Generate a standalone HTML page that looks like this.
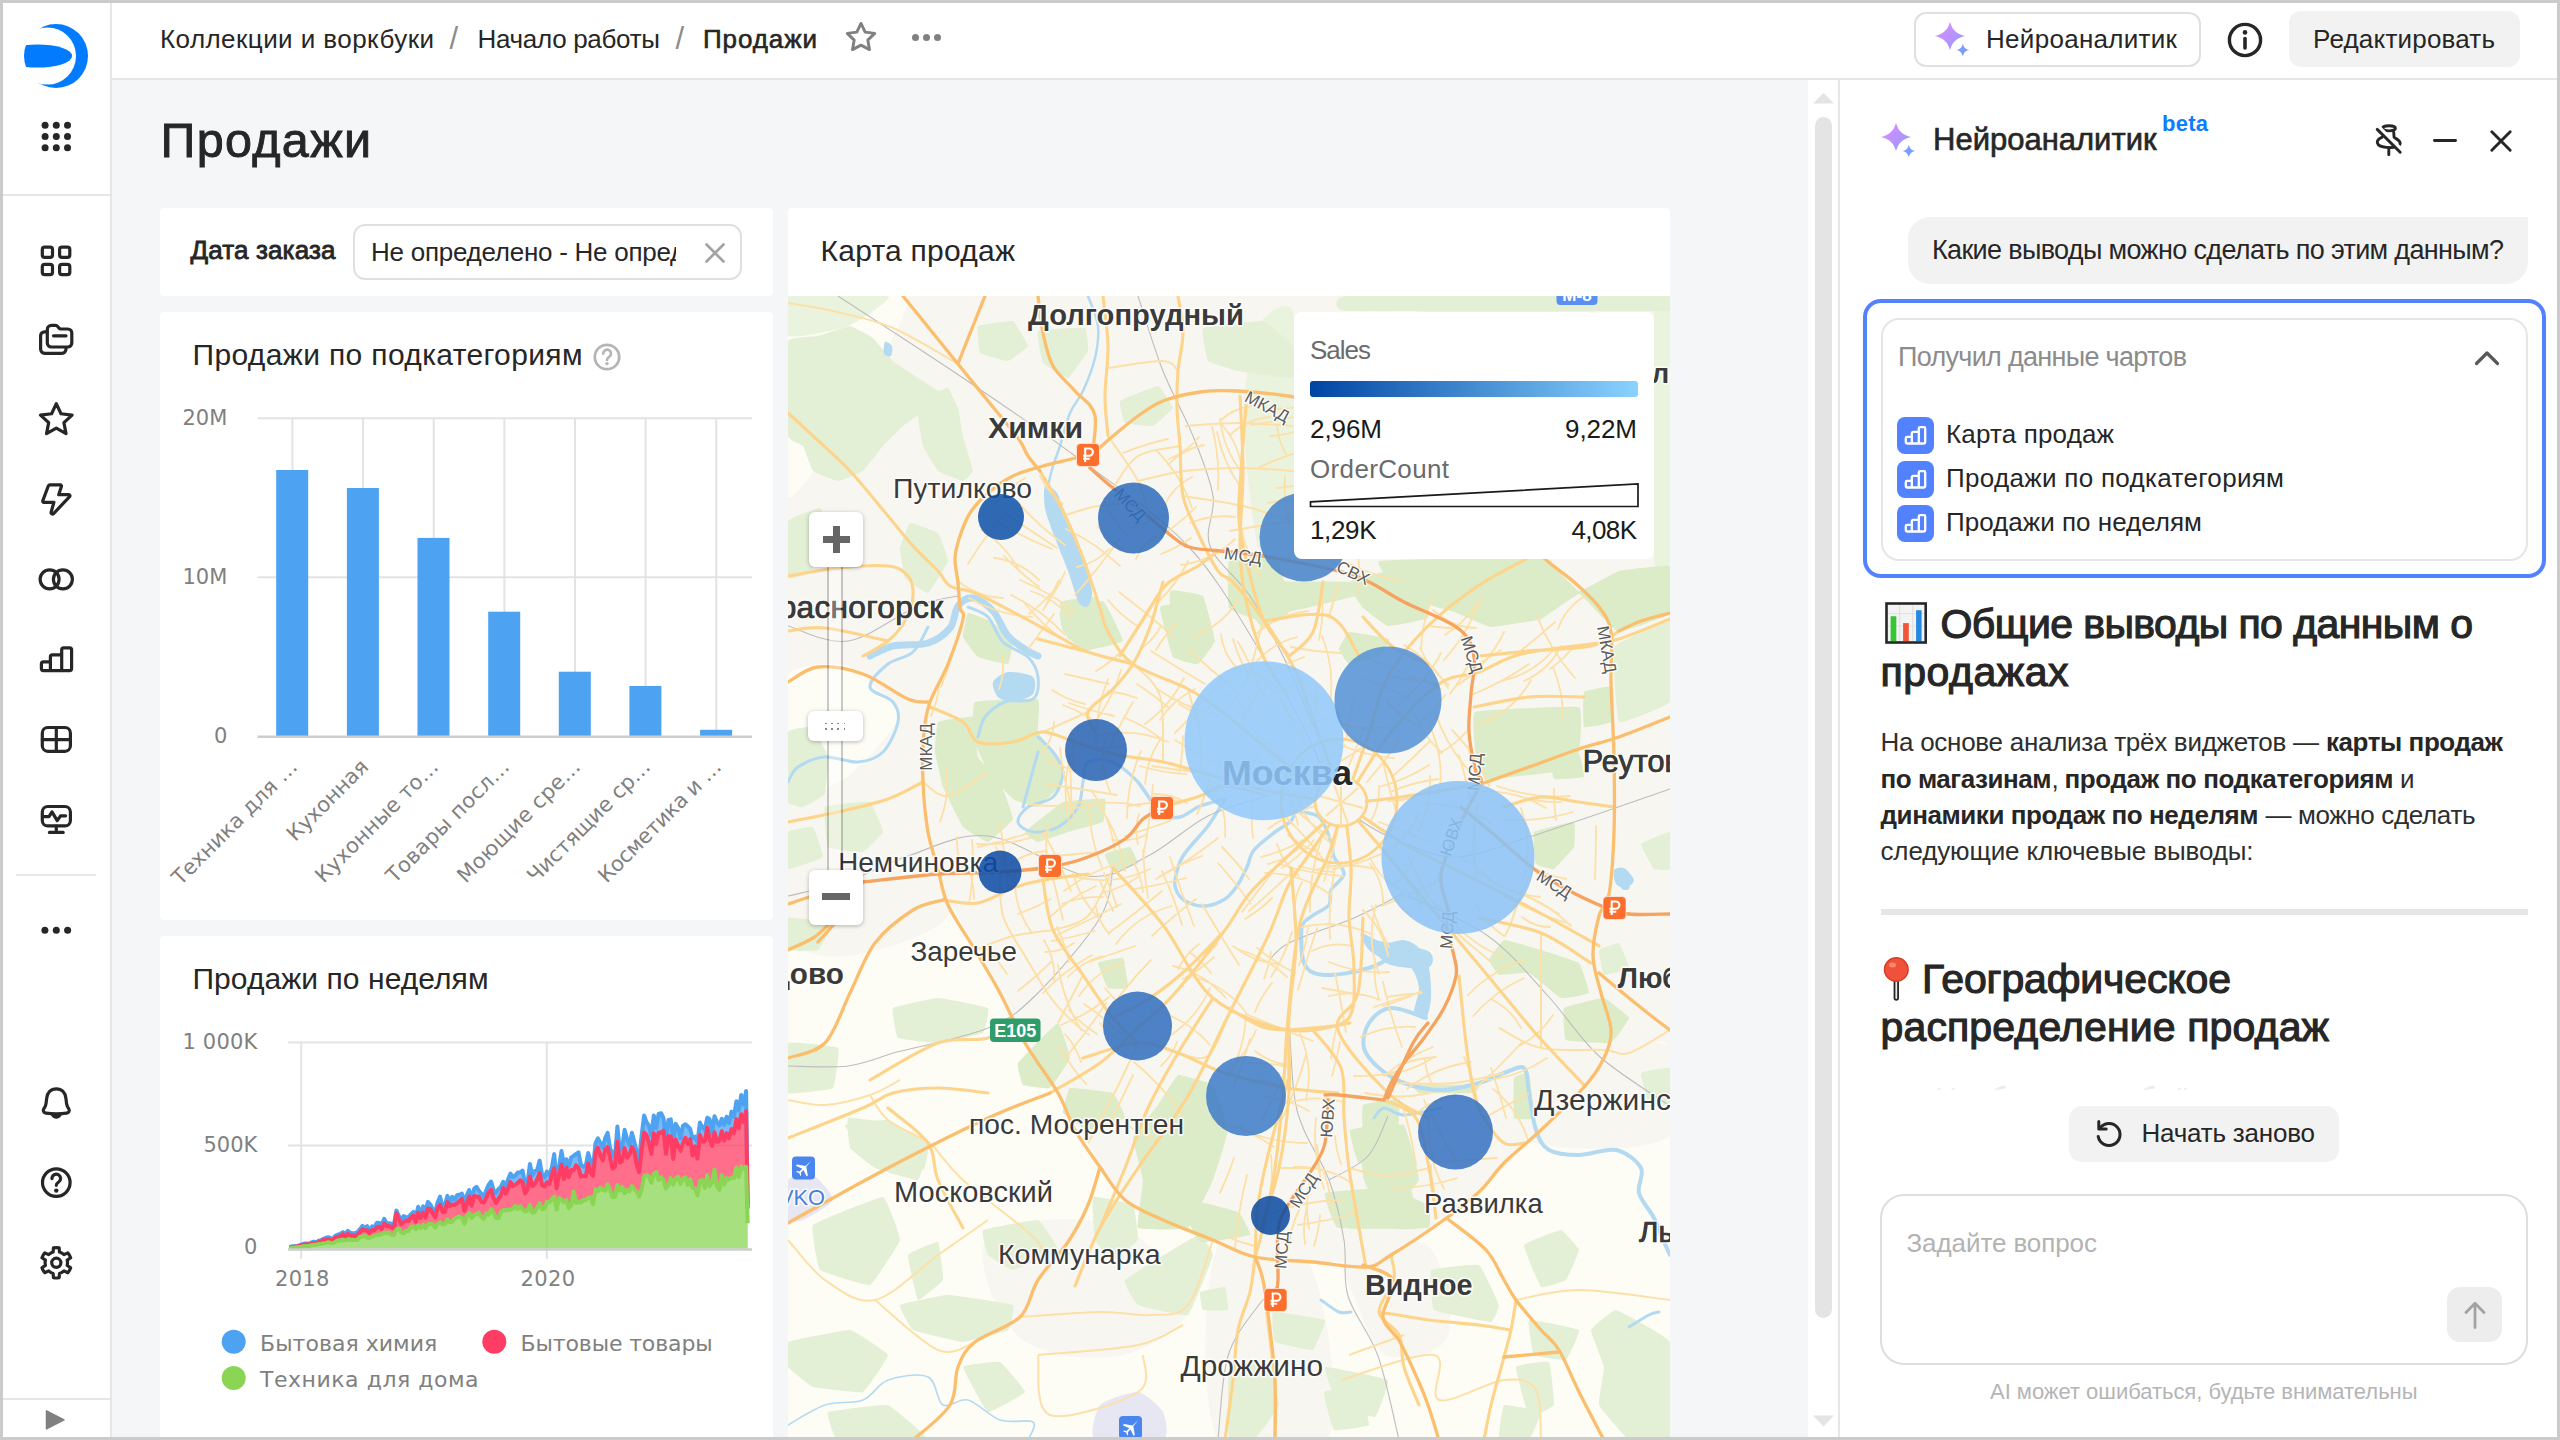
<!DOCTYPE html>
<html lang="ru"><head><meta charset="utf-8"><title>Продажи</title>
<style>
*{box-sizing:border-box;margin:0;padding:0}
html,body{width:2560px;height:1440px;overflow:hidden;background:#fff}
body{font-family:"Liberation Sans",sans-serif;color:#262626;position:relative}
.abs{position:absolute}
.t{position:absolute;white-space:pre;line-height:1}
.b{font-weight:bold}
svg{position:absolute;overflow:visible}
.ic{fill:none;stroke:#262626;stroke-width:3.2;stroke-linecap:round;stroke-linejoin:round}
.dj{font-family:"DejaVu Sans","Liberation Sans",sans-serif}
</style></head>
<body>
<div class="abs" style="left:112px;top:80px;width:1696px;height:1357px;background:#f5f6f8;"></div>
<div class="abs" style="left:110px;top:3px;width:2px;height:1434px;background:#e6e6e6;"></div>
<div class="abs" style="left:3px;top:194px;width:107px;height:2px;background:#e6e6e6;"></div>
<div class="abs" style="left:16px;top:873.5px;width:80px;height:2px;background:#e9e9e9;"></div>
<div class="abs" style="left:3px;top:1398px;width:109px;height:2px;background:#e6e6e6;"></div>
<div class="abs" style="left:112px;top:78px;width:2445px;height:2px;background:#e6e6e6;"></div>
<!-- p_side -->
<svg width="112" height="1440" viewBox="0 0 112 1440" style="left:0;top:0">
<defs><clipPath id="lgc"><circle cx="56" cy="56" r="32"/></clipPath><mask id="lgm"><rect x="0" y="0" width="112" height="112" fill="#fff"/><circle cx="47.4" cy="56" r="28.6" fill="#000"/></mask></defs>
<circle cx="56" cy="56" r="32" fill="#027bff" mask="url(#lgm)"/>
<ellipse cx="37.5" cy="56" rx="34.6" ry="11.6" fill="#027bff" clip-path="url(#lgc)"/>
<circle cx="45.1" cy="125.3" r="3.5" fill="#262626"/>
<circle cx="56.3" cy="125.3" r="3.5" fill="#262626"/>
<circle cx="67.5" cy="125.3" r="3.5" fill="#262626"/>
<circle cx="45.1" cy="136.5" r="3.5" fill="#262626"/>
<circle cx="56.3" cy="136.5" r="3.5" fill="#262626"/>
<circle cx="67.5" cy="136.5" r="3.5" fill="#262626"/>
<circle cx="45.1" cy="147.7" r="3.5" fill="#262626"/>
<circle cx="56.3" cy="147.7" r="3.5" fill="#262626"/>
<circle cx="67.5" cy="147.7" r="3.5" fill="#262626"/>
<g class="ic">
<rect x="42.3" y="247.1" width="10.2" height="10.2" rx="2.4"/>
<rect x="59.6" y="247.1" width="10.2" height="10.2" rx="2.4"/>
<rect x="42.3" y="264.4" width="10.2" height="10.2" rx="2.4"/>
<rect x="59.6" y="264.4" width="10.2" height="10.2" rx="2.4"/>
<path d="M47.3 331.8 H44.6 a4 4 0 0 0 -4 4 V349.3 a4 4 0 0 0 4 4 H62 a4 4 0 0 0 4 -4 V348.4"/>
<path d="M47.3 343 V329.4 a4 4 0 0 1 4 -4 H55.4 a3 3 0 0 1 2.4 1.2 l0.9 1.2 a3 3 0 0 0 2.4 1.2 H67.8 a4 4 0 0 1 4 4 V343 a4 4 0 0 1 -4 4 H51.3 a4 4 0 0 1 -4 -4 Z"/>
<path d="M53.5 335.8 H66"/>
<path d="M56.30 403.60L61.00 413.73L72.09 415.07L63.91 422.67L66.06 433.63L56.30 428.20L46.54 433.63L48.69 422.67L40.51 415.07L51.60 413.73Z"/>
<path d="M50 484.9 H60.3 a1.2 1.2 0 0 1 1.1 1.6 L58.7 494.7 H68.8 a1.1 1.1 0 0 1 .8 1.9 L53.6 513.6 a1.5 1.5 0 0 1 -2.5 -1.4 L53.9 502.4 H43.9 a1.2 1.2 0 0 1 -1.1 -1.6 L48.3 486 a1.8 1.8 0 0 1 1.7 -1.1 Z"/>
<circle cx="49.600" cy="579.300" r="9.500"/><circle cx="62.900" cy="579.300" r="9.500"/>
<path d="M50.4 670.6 H43.4 a2 2 0 0 1 -2 -2 V663.9 a2 2 0 0 1 2 -2 H50.4 M50.4 670.6 V656.8 a2 2 0 0 1 2 -2 H61.7 M50.4 670.6 H61.7 M61.7 670.6 V649.8 a2 2 0 0 1 2 -2 H69.6 a2 2 0 0 1 2 2 V668.6 a2 2 0 0 1 -2 2 H61.7"/>
<rect x="42.3" y="727.5" width="28.1" height="23.8" rx="5.5"/><path d="M56.3 727.5 V751.3 M42.3 739.7 H70.4"/>
<rect x="42.3" y="806.5" width="28.1" height="19.4" rx="5.5"/><path d="M56.3 826 V832.4 M49.4 832.4 H63.2 M42.5 816.7 H49 L52 811.9 L57.2 820.6 L60.7 815.8 H65.6"/>
<path d="M56.3 1088.8 c-5.6 0 -9 4 -9.6 9.4 l-.7 5.6 c-.3 2.2 -1.2 3.6 -2.2 5 c-1.3 1.9 0 4.1 2.2 4.4 c3.4 .5 6.9 .7 10.3 .7 s6.900 -.2 10.3 -.7 c2.2 -.3 3.5 -2.5 2.2 -4.4 c-1 -1.4 -1.9 -2.8 -2.2 -5 l-.7 -5.600 c-.6 -5.400 -4 -9.400 -9.600 -9.400 Z"/>
<path d="M52.4 1114.6 c.8 1.6 2.200 2.6 3.900 2.600 s3.100 -1 3.900 -2.600" fill="#262626"/>
<circle cx="56.3" cy="1182.6" r="13.8"/>
<path d="M52 1178.6 a4.3 4.3 0 1 1 6.7 3.4 c-1.500 1 -2.400 1.700 -2.400 3.300"/>
<path d="M53.45 1247.87A15.2 15.2 0 0 1 59.15 1247.87L59.48 1252.06A11.2 11.2 0 0 1 64.01 1254.68L67.81 1252.87A15.2 15.2 0 0 1 70.65 1257.80L67.19 1260.19A11.2 11.2 0 0 1 67.19 1265.41L70.65 1267.80A15.2 15.2 0 0 1 67.81 1272.73L64.01 1270.92A11.2 11.2 0 0 1 59.48 1273.54L59.15 1277.73A15.2 15.2 0 0 1 53.45 1277.73L53.12 1273.54A11.2 11.2 0 0 1 48.59 1270.92L44.79 1272.73A15.2 15.2 0 0 1 41.95 1267.80L45.41 1265.41A11.2 11.2 0 0 1 45.41 1260.19L41.95 1257.80A15.2 15.2 0 0 1 44.79 1252.87L48.59 1254.68A11.2 11.2 0 0 1 53.12 1252.06Z"/><circle cx="56.3" cy="1262.800" r="4.6"/>
</g>
<circle cx="56.3" cy="1190.6" r="2.2" fill="#262626"/>
<circle cx="44.9" cy="930.2" r="3.5" fill="#262626"/>
<circle cx="56.3" cy="930.2" r="3.5" fill="#262626"/>
<circle cx="67.6" cy="930.2" r="3.5" fill="#262626"/>
<path d="M46.500 1410.800 L64 1419.800 L46.500 1428.800 Z" fill="#808080" stroke="#808080" stroke-width="1.5" stroke-linejoin="round"/>
</svg>
<!-- p_head -->
<div class="t" style="top:26.0px;font-size:26px;left:160px;letter-spacing:0.435px;">Коллекции и воркбуки</div>
<div class="t" style="top:22.5px;font-size:31px;left:449.5px;color:#8c8c8c;">/</div>
<div class="t" style="top:26.0px;font-size:26px;left:477.5px;letter-spacing:-0.301px;">Начало работы</div>
<div class="t" style="top:22.5px;font-size:31px;left:675.5px;color:#8c8c8c;">/</div>
<div class="t" style="top:26.0px;font-size:26px;left:703px;letter-spacing:0.902px;-webkit-text-stroke:0.6px #262626;">Продажи</div>
<svg width="40" height="40" viewBox="-20 -20 40 40" style="left:840.5px;top:16.5px"><path d="M0 -13.6 L4.2 -4.9 L13.700 -3.6 L6.800 3.100 L8.500 12.600 L0 8.100 L-8.500 12.600 L-6.800 3.100 L-13.700 -3.600 L-4.200 -4.900 Z" fill="none" stroke="#808080" stroke-width="2.9" stroke-linejoin="round"/></svg>
<div class="abs" style="left:911.8px;top:33.7px;width:7px;height:7px;background:#808080;border-radius:3.5px;"></div>
<div class="abs" style="left:923.1px;top:33.7px;width:7px;height:7px;background:#808080;border-radius:3.5px;"></div>
<div class="abs" style="left:934.4px;top:33.7px;width:7px;height:7px;background:#808080;border-radius:3.5px;"></div>
<div class="abs" style="left:1914px;top:12px;width:287px;height:55px;border-radius:12px;border:2px solid #e0e0e0;"></div>
<svg width="2" height="2" style="left:1950.4px;top:36.3px"><defs><linearGradient id="sg1" gradientUnits="userSpaceOnUse" x1="-14" y1="-12" x2="16" y2="18"><stop offset="0" stop-color="#e08bff"/><stop offset="0.5" stop-color="#b494ff"/><stop offset="1" stop-color="#8a9aff"/></linearGradient></defs><g transform="scale(1.0)" fill="url(#sg1)"><path d="M0 -14.300 C2 -6.400 6.400 -2 15.300 0 C6.400 2 2 6.400 0 14.300 C-2 6.400 -6.400 2 -15.300 0 C-6.400 -2 -2 -6.400 0 -14.300 Z"/><path d="M0 -6.300 C.9 -2.600 2.600 -.9 6.300 0 C2.600 .9 .9 2.600 0 6.300 C-.9 2.600 -2.600 .9 -6.300 0 C-2.600 -.9 -.9 -2.600 0 -6.300 Z" transform="translate(12.800 14)" fill="#7b9dff"/></g></svg>
<div class="t" style="top:25.7px;font-size:26px;left:1986px;letter-spacing:0.295px;">Нейроаналитик</div>
<svg width="40" height="40" viewBox="-20 -20 40 40" style="left:2225.3px;top:19.5px"><circle r="15.6" fill="none" stroke="#262626" stroke-width="3.4"/><path d="M0 -1.5 V8" stroke="#262626" stroke-width="3.6" stroke-linecap="round"/><circle cy="-7.6" r="2.3" fill="#262626"/></svg>
<div class="abs" style="left:2289px;top:11px;width:231px;height:56px;background:#f2f2f2;border-radius:12px;"></div>
<div class="t" style="top:25.7px;font-size:26px;left:2313px;letter-spacing:0.200px;">Редактировать</div>
<div class="t" style="top:115.8px;font-size:48.5px;left:160.5px;letter-spacing:1.324px;-webkit-text-stroke:0.9px #262626;">Продажи</div>
<!-- p_left -->
<div class="abs" style="left:160px;top:208px;width:612.5px;height:88px;background:#fff;border-radius:4px;"></div>
<div class="t" style="top:236.7px;font-size:26px;left:190.5px;letter-spacing:0.133px;-webkit-text-stroke:0.85px #262626;">Дата заказа</div>
<div class="abs" style="left:352.5px;top:224px;width:389px;height:56px;background:#fff;border-radius:12px;border:2px solid #e0e0e0;"></div>
<div class="abs" style="left:371px;top:230px;width:304.5px;height:44px;overflow:hidden"><div class="t" style="top:8.5px;font-size:26px;left:0px;letter-spacing:-0.258px;">Не определено - Не определено</div></div>
<svg width="24" height="24" viewBox="-12 -12 24 24" style="left:703px;top:241px"><path d="M-8.500 -8.500 L8.500 8.500 M8.500 -8.500 L-8.500 8.500" stroke="#a3a3a3" stroke-width="2.7" stroke-linecap="round"/></svg>
<div class="abs" style="left:160px;top:312px;width:612.5px;height:608px;background:#fff;border-radius:4px;"></div>
<div class="t" style="top:339.5px;font-size:30px;left:192.5px;letter-spacing:0.355px;">Продажи по подкатегориям</div>
<svg width="32" height="32" viewBox="-16 -16 32 32" style="left:590.500px;top:340.500px"><circle r="12.2" fill="none" stroke="#b5b5b5" stroke-width="2.8"/><path d="M-3.800 -3.300 a3.900 3.900 0 1 1 6 3.200 c-1.300 .9 -2.200 1.500 -2.200 3" fill="none" stroke="#b5b5b5" stroke-width="2.600" stroke-linecap="round"/><circle cy="6.600" r="1.700" fill="#b5b5b5"/></svg>
<svg width="2560" height="1440" viewBox="0 0 2560 1440" style="left:0;top:0;pointer-events:none">
<path d="M257.5 418.2 H752 M257.5 577.2 H752" stroke="#e3e3e3" stroke-width="2" fill="none"/>
<path d="M292.4 418.2 V737.2 M363.1 418.2 V737.2 M433.7 418.2 V737.2 M504.4 418.2 V737.2 M575.0 418.2 V737.2 M645.6 418.2 V737.2 M716.3 418.2 V737.2" stroke="#e3e3e3" stroke-width="2" fill="none"/>
<rect x="276.2" y="470" width="32" height="266.2" fill="#4da2f1"/>
<rect x="346.9" y="488" width="32" height="248.2" fill="#4da2f1"/>
<rect x="417.5" y="537.9" width="32" height="198.3" fill="#4da2f1"/>
<rect x="488.2" y="611.7" width="32" height="124.5" fill="#4da2f1"/>
<rect x="558.8" y="671.7" width="32" height="64.5" fill="#4da2f1"/>
<rect x="629.4" y="686" width="32" height="50.2" fill="#4da2f1"/>
<rect x="700.1" y="729.8" width="32" height="6.4" fill="#4da2f1"/>
<path d="M257.5 736.8000000000001 H752" stroke="#cdcdcd" stroke-width="2.4" fill="none"/>
</svg>
<div class="t" style="top:408.0px;font-size:21px;left:182.5px;font-family:'DejaVu Sans',sans-serif;color:#808080;letter-spacing:-0.021px;">20M</div>
<div class="t" style="top:567.0px;font-size:21px;left:182.5px;font-family:'DejaVu Sans',sans-serif;color:#808080;letter-spacing:-0.021px;">10M</div>
<div class="t" style="top:725.5px;font-size:21px;left:213.9px;font-family:'DejaVu Sans',sans-serif;color:#808080;">0</div>
<div class="t" style="left:126.9px;top:752.5px;font-size:21px;font-family:'DejaVu Sans',sans-serif;color:#808080;transform-origin:167.0px 50%;transform:rotate(-45deg);letter-spacing:0.081px;">Техника для …</div>
<div class="t" style="left:259.6px;top:752.5px;font-size:21px;font-family:'DejaVu Sans',sans-serif;color:#808080;transform-origin:105.0px 50%;transform:rotate(-45deg);letter-spacing:-0.082px;">Кухонная</div>
<div class="t" style="left:271.2px;top:752.5px;font-size:21px;font-family:'DejaVu Sans',sans-serif;color:#808080;transform-origin:164.0px 50%;transform:rotate(-45deg);letter-spacing:0.152px;">Кухонные то…</div>
<div class="t" style="left:341.9px;top:752.5px;font-size:21px;font-family:'DejaVu Sans',sans-serif;color:#808080;transform-origin:164.0px 50%;transform:rotate(-45deg);letter-spacing:0.359px;">Товары посл…</div>
<div class="t" style="left:412.5px;top:752.5px;font-size:21px;font-family:'DejaVu Sans',sans-serif;color:#808080;transform-origin:164.0px 50%;transform:rotate(-45deg);letter-spacing:0.353px;">Моющие сре…</div>
<div class="t" style="left:483.1px;top:752.5px;font-size:21px;font-family:'DejaVu Sans',sans-serif;color:#808080;transform-origin:164.0px 50%;transform:rotate(-45deg);letter-spacing:0.058px;">Чистящие ср…</div>
<div class="t" style="left:553.8px;top:752.5px;font-size:21px;font-family:'DejaVu Sans',sans-serif;color:#808080;transform-origin:164.0px 50%;transform:rotate(-45deg);letter-spacing:-0.291px;">Косметика и …</div>
<div class="abs" style="left:160px;top:936px;width:612.5px;height:520px;background:#fff;border-radius:4px;"></div>
<div class="t" style="top:964.0px;font-size:30px;left:192.5px;letter-spacing:0.056px;">Продажи по неделям</div>
<svg width="2560" height="1440" viewBox="0 0 2560 1440" style="left:0;top:0;pointer-events:none">
<path d="M288 1042.5 H752 M288 1145.6 H752" stroke="#e3e3e3" stroke-width="2" fill="none"/>
<path d="M301.2 1042.5 V1258.7 M546.8 1042.5 V1258.7" stroke="#e3e3e3" stroke-width="2" fill="none"/>
<path d="M289.5 1246.9 L291.9 1246.5 L294.4 1246.3 L296.8 1246.1 L299.2 1245.3 L301.6 1244.4 L304.1 1243.6 L306.5 1243.5 L308.9 1243.7 L311.4 1242.4 L313.8 1241.7 L316.2 1242.5 L318.6 1240.7 L321.1 1240.3 L323.5 1238.8 L325.9 1237.7 L328.4 1237.2 L330.8 1238.1 L333.2 1238.7 L335.6 1235.5 L338.1 1234.5 L340.5 1233.9 L342.9 1232.1 L345.4 1234.3 L347.8 1230.8 L350.2 1232.7 L352.6 1233.4 L355.1 1233.0 L357.5 1232.3 L359.9 1229.3 L362.4 1225.8 L364.8 1227.7 L367.2 1226.2 L369.6 1230.6 L372.1 1226.4 L374.5 1227.1 L376.9 1222.8 L379.4 1223.0 L381.8 1224.2 L384.2 1218.8 L386.6 1223.2 L389.1 1223.3 L391.5 1223.7 L393.9 1224.9 L396.4 1210.4 L398.8 1216.0 L401.2 1220.4 L403.6 1216.0 L406.1 1217.3 L408.5 1217.2 L410.9 1214.3 L413.4 1211.8 L415.8 1216.8 L418.2 1206.8 L420.6 1214.1 L423.1 1206.3 L425.5 1211.0 L427.9 1201.9 L430.4 1204.8 L432.8 1209.4 L435.2 1212.6 L437.6 1202.2 L440.1 1196.6 L442.5 1207.1 L444.9 1205.0 L447.4 1195.9 L449.8 1201.5 L452.2 1196.8 L454.6 1199.8 L457.1 1195.3 L459.5 1194.7 L461.9 1193.6 L464.4 1201.9 L466.8 1195.1 L469.2 1190.1 L471.6 1201.0 L474.1 1188.8 L476.5 1186.9 L478.9 1190.8 L481.4 1193.7 L483.8 1196.9 L486.2 1190.4 L488.6 1184.9 L491.1 1181.5 L493.5 1189.9 L495.9 1192.9 L498.4 1189.1 L500.8 1186.9 L503.2 1181.8 L505.6 1186.5 L508.1 1179.3 L510.5 1173.6 L512.9 1177.0 L515.4 1175.5 L517.8 1172.4 L520.2 1172.6 L522.6 1170.5 L525.1 1184.3 L527.5 1182.9 L529.9 1163.9 L532.4 1175.3 L534.8 1171.0 L537.2 1170.1 L539.6 1160.6 L542.1 1174.8 L544.5 1177.4 L546.9 1171.6 L549.4 1174.9 L551.8 1167.7 L554.2 1154.1 L556.6 1180.8 L559.1 1166.5 L561.5 1151.1 L563.9 1164.6 L566.4 1159.4 L568.8 1166.3 L571.2 1157.4 L573.6 1155.9 L576.1 1153.9 L578.5 1152.4 L580.9 1164.6 L583.4 1166.7 L585.8 1165.7 L588.2 1153.0 L590.6 1161.6 L593.1 1167.4 L595.5 1143.2 L597.9 1138.4 L600.4 1142.9 L602.8 1147.5 L605.2 1138.1 L607.6 1132.9 L610.1 1148.5 L612.5 1153.0 L614.9 1157.4 L617.4 1126.5 L619.8 1150.9 L622.2 1147.8 L624.6 1129.7 L627.1 1139.1 L629.5 1145.3 L631.9 1132.7 L634.4 1142.3 L636.8 1152.0 L639.2 1159.8 L641.6 1135.5 L644.1 1115.5 L646.5 1122.2 L648.9 1125.4 L651.4 1135.4 L653.8 1115.6 L656.2 1128.2 L658.6 1113.9 L661.1 1113.2 L663.5 1118.2 L665.9 1140.0 L668.4 1119.9 L670.8 1119.4 L673.2 1140.6 L675.6 1123.8 L678.1 1127.8 L680.5 1138.3 L682.9 1125.9 L685.4 1124.2 L687.8 1126.3 L690.2 1128.9 L692.6 1138.4 L695.1 1136.7 L697.5 1142.1 L699.9 1122.6 L702.4 1127.4 L704.8 1129.7 L707.2 1117.8 L709.6 1119.3 L712.1 1134.0 L714.5 1116.3 L716.9 1121.8 L719.4 1125.4 L721.8 1118.7 L724.2 1125.0 L726.6 1116.7 L729.1 1122.9 L731.5 1111.6 L733.9 1116.7 L736.4 1101.3 L738.8 1110.5 L741.2 1095.1 L743.6 1104.4 L746.1 1091.0 L747.7 1204.5 L747.7 1208.6 L746.1 1111.1 L743.6 1122.0 L741.2 1114.3 L738.8 1128.2 L736.4 1119.3 L733.9 1133.2 L731.5 1129.1 L729.1 1138.3 L726.6 1133.2 L724.2 1140.7 L721.8 1131.2 L719.4 1140.8 L716.9 1141.9 L714.5 1132.3 L712.1 1146.0 L709.6 1139.2 L707.2 1127.7 L704.8 1141.4 L702.4 1141.7 L699.9 1135.0 L697.5 1158.5 L695.1 1146.3 L692.6 1155.5 L690.2 1139.2 L687.8 1143.8 L685.4 1137.8 L682.9 1143.4 L680.5 1150.8 L678.1 1145.4 L675.6 1139.4 L673.2 1159.1 L670.8 1136.7 L668.4 1136.0 L665.9 1153.9 L663.5 1130.7 L661.1 1132.8 L658.6 1132.5 L656.2 1143.7 L653.8 1133.2 L651.4 1153.9 L648.9 1142.6 L646.5 1135.2 L644.1 1132.5 L641.6 1150.4 L639.2 1172.3 L636.8 1165.3 L634.4 1151.6 L631.9 1146.9 L629.5 1154.5 L627.1 1157.6 L624.6 1148.1 L622.2 1161.0 L619.8 1162.6 L617.4 1141.7 L614.9 1166.9 L612.5 1168.6 L610.1 1157.5 L607.6 1147.2 L605.2 1149.7 L602.8 1160.4 L600.4 1155.7 L597.9 1147.5 L595.5 1153.0 L593.1 1175.6 L590.6 1172.6 L588.2 1163.5 L585.8 1176.3 L583.4 1175.9 L580.9 1176.7 L578.5 1167.8 L576.1 1165.3 L573.6 1170.4 L571.2 1170.0 L568.8 1177.1 L566.4 1167.5 L563.9 1179.1 L561.5 1164.6 L559.1 1174.6 L556.6 1188.2 L554.2 1168.4 L551.8 1175.1 L549.4 1184.2 L546.9 1182.4 L544.5 1186.5 L542.1 1185.2 L539.6 1173.1 L537.2 1179.4 L534.8 1184.2 L532.4 1186.3 L529.9 1176.4 L527.5 1189.7 L525.1 1193.5 L522.6 1182.2 L520.2 1180.3 L517.8 1182.9 L515.4 1184.8 L512.9 1186.1 L510.5 1182.1 L508.1 1188.5 L505.6 1193.8 L503.2 1188.0 L500.8 1195.5 L498.4 1198.8 L495.9 1202.9 L493.5 1197.8 L491.1 1189.8 L488.6 1192.5 L486.2 1198.1 L483.8 1202.6 L481.4 1201.8 L478.9 1197.0 L476.5 1196.3 L474.1 1196.3 L471.6 1205.8 L469.2 1196.5 L466.8 1203.8 L464.4 1210.8 L461.9 1198.8 L459.5 1201.0 L457.1 1203.3 L454.6 1204.9 L452.2 1204.6 L449.8 1206.0 L447.4 1202.1 L444.9 1211.7 L442.5 1212.0 L440.1 1204.5 L437.6 1207.9 L435.2 1217.4 L432.8 1213.2 L430.4 1209.3 L427.9 1208.6 L425.5 1217.5 L423.1 1212.6 L420.6 1218.1 L418.2 1212.6 L415.8 1221.9 L413.4 1215.5 L410.9 1217.5 L408.5 1221.1 L406.1 1220.6 L403.6 1222.1 L401.2 1224.4 L398.8 1219.2 L396.4 1213.2 L393.9 1228.0 L391.5 1227.3 L389.1 1226.1 L386.6 1226.0 L384.2 1223.3 L381.8 1228.9 L379.4 1226.8 L376.9 1227.3 L374.5 1230.3 L372.1 1229.9 L369.6 1233.2 L367.2 1230.3 L364.8 1230.6 L362.4 1229.4 L359.9 1232.1 L357.5 1234.8 L355.1 1236.1 L352.6 1235.4 L350.2 1235.5 L347.8 1233.7 L345.4 1236.9 L342.9 1234.2 L340.5 1235.9 L338.1 1236.8 L335.6 1237.5 L333.2 1239.9 L330.8 1240.2 L328.4 1239.4 L325.9 1239.7 L323.5 1240.0 L321.1 1241.5 L318.6 1241.9 L316.2 1243.5 L313.8 1242.9 L311.4 1243.5 L308.9 1244.6 L306.5 1244.3 L304.1 1244.8 L301.6 1245.4 L299.2 1245.8 L296.8 1246.6 L294.4 1246.7 L291.9 1247.0 L289.5 1247.4 Z" fill="#4da2f1" fill-opacity=".75"/>
<path d="M289.5 1247.4 L291.9 1247.0 L294.4 1246.7 L296.8 1246.6 L299.2 1245.8 L301.6 1245.4 L304.1 1244.8 L306.5 1244.3 L308.9 1244.6 L311.4 1243.5 L313.8 1242.9 L316.2 1243.5 L318.6 1241.9 L321.1 1241.5 L323.5 1240.0 L325.9 1239.7 L328.4 1239.4 L330.8 1240.2 L333.2 1239.9 L335.6 1237.5 L338.1 1236.8 L340.5 1235.9 L342.9 1234.2 L345.4 1236.9 L347.8 1233.7 L350.2 1235.5 L352.6 1235.4 L355.1 1236.1 L357.5 1234.8 L359.9 1232.1 L362.4 1229.4 L364.8 1230.6 L367.2 1230.3 L369.6 1233.2 L372.1 1229.9 L374.5 1230.3 L376.9 1227.3 L379.4 1226.8 L381.8 1228.9 L384.2 1223.3 L386.6 1226.0 L389.1 1226.1 L391.5 1227.3 L393.9 1228.0 L396.4 1213.2 L398.8 1219.2 L401.2 1224.4 L403.6 1222.1 L406.1 1220.6 L408.5 1221.1 L410.9 1217.5 L413.4 1215.5 L415.8 1221.9 L418.2 1212.6 L420.6 1218.1 L423.1 1212.6 L425.5 1217.5 L427.9 1208.6 L430.4 1209.3 L432.8 1213.2 L435.2 1217.4 L437.6 1207.9 L440.1 1204.5 L442.5 1212.0 L444.9 1211.7 L447.4 1202.1 L449.8 1206.0 L452.2 1204.6 L454.6 1204.9 L457.1 1203.3 L459.5 1201.0 L461.9 1198.8 L464.4 1210.8 L466.8 1203.8 L469.2 1196.5 L471.6 1205.8 L474.1 1196.3 L476.5 1196.3 L478.9 1197.0 L481.4 1201.8 L483.8 1202.6 L486.2 1198.1 L488.6 1192.5 L491.1 1189.8 L493.5 1197.8 L495.9 1202.9 L498.4 1198.8 L500.8 1195.5 L503.2 1188.0 L505.6 1193.8 L508.1 1188.5 L510.5 1182.1 L512.9 1186.1 L515.4 1184.8 L517.8 1182.9 L520.2 1180.3 L522.6 1182.2 L525.1 1193.5 L527.5 1189.7 L529.9 1176.4 L532.4 1186.3 L534.8 1184.2 L537.2 1179.4 L539.6 1173.1 L542.1 1185.2 L544.5 1186.5 L546.9 1182.4 L549.4 1184.2 L551.8 1175.1 L554.2 1168.4 L556.6 1188.2 L559.1 1174.6 L561.5 1164.6 L563.9 1179.1 L566.4 1167.5 L568.8 1177.1 L571.2 1170.0 L573.6 1170.4 L576.1 1165.3 L578.5 1167.8 L580.9 1176.7 L583.4 1175.9 L585.8 1176.3 L588.2 1163.5 L590.6 1172.6 L593.1 1175.6 L595.5 1153.0 L597.9 1147.5 L600.4 1155.7 L602.8 1160.4 L605.2 1149.7 L607.6 1147.2 L610.1 1157.5 L612.5 1168.6 L614.9 1166.9 L617.4 1141.7 L619.8 1162.6 L622.2 1161.0 L624.6 1148.1 L627.1 1157.6 L629.5 1154.5 L631.9 1146.9 L634.4 1151.6 L636.8 1165.3 L639.2 1172.3 L641.6 1150.4 L644.1 1132.5 L646.5 1135.2 L648.9 1142.6 L651.4 1153.9 L653.8 1133.2 L656.2 1143.7 L658.6 1132.5 L661.1 1132.8 L663.5 1130.7 L665.9 1153.9 L668.4 1136.0 L670.8 1136.7 L673.2 1159.1 L675.6 1139.4 L678.1 1145.4 L680.5 1150.8 L682.9 1143.4 L685.4 1137.8 L687.8 1143.8 L690.2 1139.2 L692.6 1155.5 L695.1 1146.3 L697.5 1158.5 L699.9 1135.0 L702.4 1141.7 L704.8 1141.4 L707.2 1127.7 L709.6 1139.2 L712.1 1146.0 L714.5 1132.3 L716.9 1141.9 L719.4 1140.8 L721.8 1131.2 L724.2 1140.7 L726.6 1133.2 L729.1 1138.3 L731.5 1129.1 L733.9 1133.2 L736.4 1119.3 L738.8 1128.2 L741.2 1114.3 L743.6 1122.0 L746.1 1111.1 L747.7 1208.6 L747.7 1223.2 L746.1 1166.8 L743.6 1169.2 L741.2 1166.5 L738.8 1177.0 L736.4 1167.5 L733.9 1178.1 L731.5 1177.5 L729.1 1179.4 L726.6 1178.1 L724.2 1184.5 L721.8 1175.3 L719.4 1190.0 L716.9 1186.1 L714.5 1169.4 L712.1 1182.7 L709.6 1186.1 L707.2 1175.2 L704.8 1188.0 L702.4 1180.2 L699.9 1180.9 L697.5 1195.4 L695.1 1188.6 L692.6 1187.8 L690.2 1179.0 L687.8 1185.1 L685.4 1177.3 L682.9 1178.7 L680.5 1183.9 L678.1 1176.8 L675.6 1178.7 L673.2 1184.5 L670.8 1178.1 L668.4 1185.1 L665.9 1188.4 L663.5 1179.7 L661.1 1177.3 L658.6 1180.0 L656.2 1172.2 L653.8 1173.9 L651.4 1182.8 L648.9 1176.2 L646.5 1174.9 L644.1 1176.4 L641.6 1189.5 L639.2 1196.6 L636.8 1191.6 L634.4 1189.4 L631.9 1186.0 L629.5 1191.2 L627.1 1189.9 L624.6 1193.2 L622.2 1186.8 L619.8 1190.6 L617.4 1185.0 L614.9 1197.1 L612.5 1197.1 L610.1 1190.0 L607.6 1184.4 L605.2 1190.7 L602.8 1189.8 L600.4 1187.7 L597.9 1191.3 L595.5 1189.2 L593.1 1204.1 L590.6 1197.3 L588.2 1197.7 L585.8 1200.2 L583.4 1199.9 L580.9 1202.7 L578.5 1201.6 L576.1 1203.0 L573.6 1191.7 L571.2 1205.1 L568.8 1208.1 L566.4 1200.2 L563.9 1202.1 L561.5 1199.8 L559.1 1198.1 L556.6 1209.5 L554.2 1196.6 L551.8 1199.3 L549.4 1202.3 L546.9 1201.8 L544.5 1208.5 L542.1 1209.3 L539.6 1203.3 L537.2 1207.8 L534.8 1211.8 L532.4 1212.8 L529.9 1204.8 L527.5 1210.6 L525.1 1211.4 L522.6 1209.4 L520.2 1206.3 L517.8 1209.1 L515.4 1205.8 L512.9 1208.7 L510.5 1209.7 L508.1 1209.7 L505.6 1210.2 L503.2 1209.9 L500.8 1212.1 L498.4 1218.3 L495.9 1217.8 L493.5 1212.7 L491.1 1209.0 L488.6 1214.6 L486.2 1213.2 L483.8 1218.8 L481.4 1217.0 L478.9 1212.7 L476.5 1214.1 L474.1 1215.1 L471.6 1218.0 L469.2 1213.2 L466.8 1215.6 L464.4 1223.6 L461.9 1217.7 L459.5 1216.5 L457.1 1217.3 L454.6 1218.9 L452.2 1221.6 L449.8 1222.2 L447.4 1219.3 L444.9 1224.1 L442.5 1224.3 L440.1 1222.1 L437.6 1224.0 L435.2 1227.6 L432.8 1224.1 L430.4 1223.7 L427.9 1224.2 L425.5 1228.3 L423.1 1224.7 L420.6 1228.1 L418.2 1225.4 L415.8 1229.2 L413.4 1226.6 L410.9 1226.6 L408.5 1231.2 L406.1 1230.7 L403.6 1233.4 L401.2 1232.3 L398.8 1228.7 L396.4 1229.4 L393.9 1234.9 L391.5 1234.8 L389.1 1232.4 L386.6 1233.2 L384.2 1232.4 L381.8 1234.1 L379.4 1234.5 L376.9 1235.4 L374.5 1235.8 L372.1 1236.8 L369.6 1238.1 L367.2 1237.6 L364.8 1235.6 L362.4 1236.8 L359.9 1236.8 L357.5 1239.9 L355.1 1240.1 L352.6 1240.1 L350.2 1239.7 L347.8 1239.6 L345.4 1240.3 L342.9 1240.0 L340.5 1240.5 L338.1 1240.3 L335.6 1241.6 L333.2 1243.1 L330.8 1243.2 L328.4 1242.2 L325.9 1242.9 L323.5 1243.3 L321.1 1244.0 L318.6 1244.0 L316.2 1244.9 L313.8 1244.7 L311.4 1245.1 L308.9 1246.1 L306.5 1246.3 L304.1 1246.1 L301.6 1246.7 L299.2 1247.0 L296.8 1247.2 L294.4 1247.5 L291.9 1247.7 L289.5 1247.9 Z" fill="#ff3d64" fill-opacity=".75"/>
<path d="M289.5 1247.9 L291.9 1247.7 L294.4 1247.5 L296.8 1247.2 L299.2 1247.0 L301.6 1246.7 L304.1 1246.1 L306.5 1246.3 L308.9 1246.1 L311.4 1245.1 L313.8 1244.7 L316.2 1244.9 L318.6 1244.0 L321.1 1244.0 L323.5 1243.3 L325.9 1242.9 L328.4 1242.2 L330.8 1243.2 L333.2 1243.1 L335.6 1241.6 L338.1 1240.3 L340.5 1240.5 L342.9 1240.0 L345.4 1240.3 L347.8 1239.6 L350.2 1239.7 L352.6 1240.1 L355.1 1240.1 L357.5 1239.9 L359.9 1236.8 L362.4 1236.8 L364.8 1235.6 L367.2 1237.6 L369.6 1238.1 L372.1 1236.8 L374.5 1235.8 L376.9 1235.4 L379.4 1234.5 L381.8 1234.1 L384.2 1232.4 L386.6 1233.2 L389.1 1232.4 L391.5 1234.8 L393.9 1234.9 L396.4 1229.4 L398.8 1228.7 L401.2 1232.3 L403.6 1233.4 L406.1 1230.7 L408.5 1231.2 L410.9 1226.6 L413.4 1226.6 L415.8 1229.2 L418.2 1225.4 L420.6 1228.1 L423.1 1224.7 L425.5 1228.3 L427.9 1224.2 L430.4 1223.7 L432.8 1224.1 L435.2 1227.6 L437.6 1224.0 L440.1 1222.1 L442.5 1224.3 L444.9 1224.1 L447.4 1219.3 L449.8 1222.2 L452.2 1221.6 L454.6 1218.9 L457.1 1217.3 L459.5 1216.5 L461.9 1217.7 L464.4 1223.6 L466.8 1215.6 L469.2 1213.2 L471.6 1218.0 L474.1 1215.1 L476.5 1214.1 L478.9 1212.7 L481.4 1217.0 L483.8 1218.8 L486.2 1213.2 L488.6 1214.6 L491.1 1209.0 L493.5 1212.7 L495.9 1217.8 L498.4 1218.3 L500.8 1212.1 L503.2 1209.9 L505.6 1210.2 L508.1 1209.7 L510.5 1209.7 L512.9 1208.7 L515.4 1205.8 L517.8 1209.1 L520.2 1206.3 L522.6 1209.4 L525.1 1211.4 L527.5 1210.6 L529.9 1204.8 L532.4 1212.8 L534.8 1211.8 L537.2 1207.8 L539.6 1203.3 L542.1 1209.3 L544.5 1208.5 L546.9 1201.8 L549.4 1202.3 L551.8 1199.3 L554.2 1196.6 L556.6 1209.5 L559.1 1198.1 L561.5 1199.8 L563.9 1202.1 L566.4 1200.2 L568.8 1208.1 L571.2 1205.1 L573.6 1191.7 L576.1 1203.0 L578.5 1201.6 L580.9 1202.7 L583.4 1199.9 L585.8 1200.2 L588.2 1197.7 L590.6 1197.3 L593.1 1204.1 L595.5 1189.2 L597.9 1191.3 L600.4 1187.7 L602.8 1189.8 L605.2 1190.7 L607.6 1184.4 L610.1 1190.0 L612.5 1197.1 L614.9 1197.1 L617.4 1185.0 L619.8 1190.6 L622.2 1186.8 L624.6 1193.2 L627.1 1189.9 L629.5 1191.2 L631.9 1186.0 L634.4 1189.4 L636.8 1191.6 L639.2 1196.6 L641.6 1189.5 L644.1 1176.4 L646.5 1174.9 L648.9 1176.2 L651.4 1182.8 L653.8 1173.9 L656.2 1172.2 L658.6 1180.0 L661.1 1177.3 L663.5 1179.7 L665.9 1188.4 L668.4 1185.1 L670.8 1178.1 L673.2 1184.5 L675.6 1178.7 L678.1 1176.8 L680.5 1183.9 L682.9 1178.7 L685.4 1177.3 L687.8 1185.1 L690.2 1179.0 L692.6 1187.8 L695.1 1188.6 L697.5 1195.4 L699.9 1180.9 L702.4 1180.2 L704.8 1188.0 L707.2 1175.2 L709.6 1186.1 L712.1 1182.7 L714.5 1169.4 L716.9 1186.1 L719.4 1190.0 L721.8 1175.3 L724.2 1184.5 L726.6 1178.1 L729.1 1179.4 L731.5 1177.5 L733.9 1178.1 L736.4 1167.5 L738.8 1177.0 L741.2 1166.5 L743.6 1169.2 L746.1 1166.8 L747.7 1223.2 L747.7 1248.7 L289.5 1248.7 Z" fill="#8ad554" fill-opacity=".75"/>
<path d="M289.5 1246.9 L291.9 1246.5 L294.4 1246.3 L296.8 1246.1 L299.2 1245.3 L301.6 1244.4 L304.1 1243.6 L306.5 1243.5 L308.9 1243.7 L311.4 1242.4 L313.8 1241.7 L316.2 1242.5 L318.6 1240.7 L321.1 1240.3 L323.5 1238.8 L325.9 1237.7 L328.4 1237.2 L330.8 1238.1 L333.2 1238.7 L335.6 1235.5 L338.1 1234.5 L340.5 1233.9 L342.9 1232.1 L345.4 1234.3 L347.8 1230.8 L350.2 1232.7 L352.6 1233.4 L355.1 1233.0 L357.5 1232.3 L359.9 1229.3 L362.4 1225.8 L364.8 1227.7 L367.2 1226.2 L369.6 1230.6 L372.1 1226.4 L374.5 1227.1 L376.9 1222.8 L379.4 1223.0 L381.8 1224.2 L384.2 1218.8 L386.6 1223.2 L389.1 1223.3 L391.5 1223.7 L393.9 1224.9 L396.4 1210.4 L398.8 1216.0 L401.2 1220.4 L403.6 1216.0 L406.1 1217.3 L408.5 1217.2 L410.9 1214.3 L413.4 1211.8 L415.8 1216.8 L418.2 1206.8 L420.6 1214.1 L423.1 1206.3 L425.5 1211.0 L427.9 1201.9 L430.4 1204.8 L432.8 1209.4 L435.2 1212.6 L437.6 1202.2 L440.1 1196.6 L442.5 1207.1 L444.9 1205.0 L447.4 1195.9 L449.8 1201.5 L452.2 1196.8 L454.6 1199.8 L457.1 1195.3 L459.5 1194.7 L461.9 1193.6 L464.4 1201.9 L466.8 1195.1 L469.2 1190.1 L471.6 1201.0 L474.1 1188.8 L476.5 1186.9 L478.9 1190.8 L481.4 1193.7 L483.8 1196.9 L486.2 1190.4 L488.6 1184.9 L491.1 1181.5 L493.5 1189.9 L495.9 1192.9 L498.4 1189.1 L500.8 1186.9 L503.2 1181.8 L505.6 1186.5 L508.1 1179.3 L510.5 1173.6 L512.9 1177.0 L515.4 1175.5 L517.8 1172.4 L520.2 1172.6 L522.6 1170.5 L525.1 1184.3 L527.5 1182.9 L529.9 1163.9 L532.4 1175.3 L534.8 1171.0 L537.2 1170.1 L539.6 1160.6 L542.1 1174.8 L544.5 1177.4 L546.9 1171.6 L549.4 1174.9 L551.8 1167.7 L554.2 1154.1 L556.6 1180.8 L559.1 1166.5 L561.5 1151.1 L563.9 1164.6 L566.4 1159.4 L568.8 1166.3 L571.2 1157.4 L573.6 1155.9 L576.1 1153.9 L578.5 1152.4 L580.9 1164.6 L583.4 1166.7 L585.8 1165.7 L588.2 1153.0 L590.6 1161.6 L593.1 1167.4 L595.5 1143.2 L597.9 1138.4 L600.4 1142.9 L602.8 1147.5 L605.2 1138.1 L607.6 1132.9 L610.1 1148.5 L612.5 1153.0 L614.9 1157.4 L617.4 1126.5 L619.8 1150.9 L622.2 1147.8 L624.6 1129.7 L627.1 1139.1 L629.5 1145.3 L631.9 1132.7 L634.4 1142.3 L636.8 1152.0 L639.2 1159.8 L641.6 1135.5 L644.1 1115.5 L646.5 1122.2 L648.9 1125.4 L651.4 1135.4 L653.8 1115.6 L656.2 1128.2 L658.6 1113.9 L661.1 1113.2 L663.5 1118.2 L665.9 1140.0 L668.4 1119.9 L670.8 1119.4 L673.2 1140.6 L675.6 1123.8 L678.1 1127.8 L680.5 1138.3 L682.9 1125.9 L685.4 1124.2 L687.8 1126.3 L690.2 1128.9 L692.6 1138.4 L695.1 1136.7 L697.5 1142.1 L699.9 1122.6 L702.4 1127.4 L704.8 1129.7 L707.2 1117.8 L709.6 1119.3 L712.1 1134.0 L714.5 1116.3 L716.9 1121.8 L719.4 1125.4 L721.8 1118.7 L724.2 1125.0 L726.6 1116.7 L729.1 1122.9 L731.5 1111.6 L733.9 1116.7 L736.4 1101.3 L738.8 1110.5 L741.2 1095.1 L743.6 1104.4 L746.1 1091.0 L747.7 1204.5" fill="none" stroke="#4da2f1" stroke-width="4" stroke-linejoin="round"/>
<path d="M289.5 1247.4 L291.9 1247.0 L294.4 1246.7 L296.8 1246.6 L299.2 1245.8 L301.6 1245.4 L304.1 1244.8 L306.5 1244.3 L308.9 1244.6 L311.4 1243.5 L313.8 1242.9 L316.2 1243.5 L318.6 1241.9 L321.1 1241.5 L323.5 1240.0 L325.9 1239.7 L328.4 1239.4 L330.8 1240.2 L333.2 1239.9 L335.6 1237.5 L338.1 1236.8 L340.5 1235.9 L342.9 1234.2 L345.4 1236.9 L347.8 1233.7 L350.2 1235.5 L352.6 1235.4 L355.1 1236.1 L357.5 1234.8 L359.9 1232.1 L362.4 1229.4 L364.8 1230.6 L367.2 1230.3 L369.6 1233.2 L372.1 1229.9 L374.5 1230.3 L376.9 1227.3 L379.4 1226.8 L381.8 1228.9 L384.2 1223.3 L386.6 1226.0 L389.1 1226.1 L391.5 1227.3 L393.9 1228.0 L396.4 1213.2 L398.8 1219.2 L401.2 1224.4 L403.6 1222.1 L406.1 1220.6 L408.5 1221.1 L410.9 1217.5 L413.4 1215.5 L415.8 1221.9 L418.2 1212.6 L420.6 1218.1 L423.1 1212.6 L425.5 1217.5 L427.9 1208.6 L430.4 1209.3 L432.8 1213.2 L435.2 1217.4 L437.6 1207.9 L440.1 1204.5 L442.5 1212.0 L444.9 1211.7 L447.4 1202.1 L449.8 1206.0 L452.2 1204.6 L454.6 1204.9 L457.1 1203.3 L459.5 1201.0 L461.9 1198.8 L464.4 1210.8 L466.8 1203.8 L469.2 1196.5 L471.6 1205.8 L474.1 1196.3 L476.5 1196.3 L478.9 1197.0 L481.4 1201.8 L483.8 1202.6 L486.2 1198.1 L488.6 1192.5 L491.1 1189.8 L493.5 1197.8 L495.9 1202.9 L498.4 1198.8 L500.8 1195.5 L503.2 1188.0 L505.6 1193.8 L508.1 1188.5 L510.5 1182.1 L512.9 1186.1 L515.4 1184.8 L517.8 1182.9 L520.2 1180.3 L522.6 1182.2 L525.1 1193.5 L527.5 1189.7 L529.9 1176.4 L532.4 1186.3 L534.8 1184.2 L537.2 1179.4 L539.6 1173.1 L542.1 1185.2 L544.5 1186.5 L546.9 1182.4 L549.4 1184.2 L551.8 1175.1 L554.2 1168.4 L556.6 1188.2 L559.1 1174.6 L561.5 1164.6 L563.9 1179.1 L566.4 1167.5 L568.8 1177.1 L571.2 1170.0 L573.6 1170.4 L576.1 1165.3 L578.5 1167.8 L580.9 1176.7 L583.4 1175.9 L585.8 1176.3 L588.2 1163.5 L590.6 1172.6 L593.1 1175.6 L595.5 1153.0 L597.9 1147.5 L600.4 1155.7 L602.8 1160.4 L605.2 1149.7 L607.6 1147.2 L610.1 1157.5 L612.5 1168.6 L614.9 1166.9 L617.4 1141.7 L619.8 1162.6 L622.2 1161.0 L624.6 1148.1 L627.1 1157.6 L629.5 1154.5 L631.9 1146.9 L634.4 1151.6 L636.8 1165.3 L639.2 1172.3 L641.6 1150.4 L644.1 1132.5 L646.5 1135.2 L648.9 1142.6 L651.4 1153.9 L653.8 1133.2 L656.2 1143.7 L658.6 1132.5 L661.1 1132.8 L663.5 1130.7 L665.9 1153.9 L668.4 1136.0 L670.8 1136.7 L673.2 1159.1 L675.6 1139.4 L678.1 1145.4 L680.5 1150.8 L682.9 1143.4 L685.4 1137.8 L687.8 1143.8 L690.2 1139.2 L692.6 1155.5 L695.1 1146.3 L697.5 1158.5 L699.9 1135.0 L702.4 1141.7 L704.8 1141.4 L707.2 1127.7 L709.6 1139.2 L712.1 1146.0 L714.5 1132.3 L716.9 1141.9 L719.4 1140.8 L721.8 1131.2 L724.2 1140.7 L726.6 1133.2 L729.1 1138.3 L731.5 1129.1 L733.9 1133.2 L736.4 1119.3 L738.8 1128.2 L741.2 1114.3 L743.6 1122.0 L746.1 1111.1 L747.7 1208.6" fill="none" stroke="#ff3d64" stroke-width="4" stroke-linejoin="round"/>
<path d="M289.5 1247.9 L291.9 1247.7 L294.4 1247.5 L296.8 1247.2 L299.2 1247.0 L301.6 1246.7 L304.1 1246.1 L306.5 1246.3 L308.9 1246.1 L311.4 1245.1 L313.8 1244.7 L316.2 1244.9 L318.6 1244.0 L321.1 1244.0 L323.5 1243.3 L325.9 1242.9 L328.4 1242.2 L330.8 1243.2 L333.2 1243.1 L335.6 1241.6 L338.1 1240.3 L340.5 1240.5 L342.9 1240.0 L345.4 1240.3 L347.8 1239.6 L350.2 1239.7 L352.6 1240.1 L355.1 1240.1 L357.5 1239.9 L359.9 1236.8 L362.4 1236.8 L364.8 1235.6 L367.2 1237.6 L369.6 1238.1 L372.1 1236.8 L374.5 1235.8 L376.9 1235.4 L379.4 1234.5 L381.8 1234.1 L384.2 1232.4 L386.6 1233.2 L389.1 1232.4 L391.5 1234.8 L393.9 1234.9 L396.4 1229.4 L398.8 1228.7 L401.2 1232.3 L403.6 1233.4 L406.1 1230.7 L408.5 1231.2 L410.9 1226.6 L413.4 1226.6 L415.8 1229.2 L418.2 1225.4 L420.6 1228.1 L423.1 1224.7 L425.5 1228.3 L427.9 1224.2 L430.4 1223.7 L432.8 1224.1 L435.2 1227.6 L437.6 1224.0 L440.1 1222.1 L442.5 1224.3 L444.9 1224.1 L447.4 1219.3 L449.8 1222.2 L452.2 1221.6 L454.6 1218.9 L457.1 1217.3 L459.5 1216.5 L461.9 1217.7 L464.4 1223.6 L466.8 1215.6 L469.2 1213.2 L471.6 1218.0 L474.1 1215.1 L476.5 1214.1 L478.9 1212.7 L481.4 1217.0 L483.8 1218.8 L486.2 1213.2 L488.6 1214.6 L491.1 1209.0 L493.5 1212.7 L495.9 1217.8 L498.4 1218.3 L500.8 1212.1 L503.2 1209.9 L505.6 1210.2 L508.1 1209.7 L510.5 1209.7 L512.9 1208.7 L515.4 1205.8 L517.8 1209.1 L520.2 1206.3 L522.6 1209.4 L525.1 1211.4 L527.5 1210.6 L529.9 1204.8 L532.4 1212.8 L534.8 1211.8 L537.2 1207.8 L539.6 1203.3 L542.1 1209.3 L544.5 1208.5 L546.9 1201.8 L549.4 1202.3 L551.8 1199.3 L554.2 1196.6 L556.6 1209.5 L559.1 1198.1 L561.5 1199.8 L563.9 1202.1 L566.4 1200.2 L568.8 1208.1 L571.2 1205.1 L573.6 1191.7 L576.1 1203.0 L578.5 1201.6 L580.9 1202.7 L583.4 1199.9 L585.8 1200.2 L588.2 1197.7 L590.6 1197.3 L593.1 1204.1 L595.5 1189.2 L597.9 1191.3 L600.4 1187.7 L602.8 1189.8 L605.2 1190.7 L607.6 1184.4 L610.1 1190.0 L612.5 1197.1 L614.9 1197.1 L617.4 1185.0 L619.8 1190.6 L622.2 1186.8 L624.6 1193.2 L627.1 1189.9 L629.5 1191.2 L631.9 1186.0 L634.4 1189.4 L636.8 1191.6 L639.2 1196.6 L641.6 1189.5 L644.1 1176.4 L646.5 1174.9 L648.9 1176.2 L651.4 1182.8 L653.8 1173.9 L656.2 1172.2 L658.6 1180.0 L661.1 1177.3 L663.5 1179.7 L665.9 1188.4 L668.4 1185.1 L670.8 1178.1 L673.2 1184.5 L675.6 1178.7 L678.1 1176.8 L680.5 1183.9 L682.9 1178.7 L685.4 1177.3 L687.8 1185.1 L690.2 1179.0 L692.6 1187.8 L695.1 1188.6 L697.5 1195.4 L699.9 1180.9 L702.4 1180.2 L704.8 1188.0 L707.2 1175.2 L709.6 1186.1 L712.1 1182.7 L714.5 1169.4 L716.9 1186.1 L719.4 1190.0 L721.8 1175.3 L724.2 1184.5 L726.6 1178.1 L729.1 1179.4 L731.5 1177.5 L733.9 1178.1 L736.4 1167.5 L738.8 1177.0 L741.2 1166.5 L743.6 1169.2 L746.1 1166.8 L747.7 1223.2" fill="none" stroke="#8ad554" stroke-width="4" stroke-linejoin="round"/>
<path d="M288 1249.5 H752" stroke="#cdcdcd" stroke-width="2.4" fill="none"/>
<circle cx="233.700" cy="1341.700" r="12" fill="#4da2f1"/><circle cx="494.300" cy="1341.700" r="12" fill="#ff3d64"/><circle cx="233.700" cy="1378" r="12" fill="#8ad554"/>
</svg>
<div class="t" style="top:1032.0px;font-size:21px;left:182.4px;font-family:'DejaVu Sans',sans-serif;color:#808080;letter-spacing:0.222px;">1 000K</div>
<div class="t" style="top:1135.0px;font-size:21px;left:203.4px;font-family:'DejaVu Sans',sans-serif;color:#808080;letter-spacing:0.048px;">500K</div>
<div class="t" style="top:1237.0px;font-size:21px;left:244.0px;font-family:'DejaVu Sans',sans-serif;color:#808080;">0</div>
<div class="t" style="top:1268.5px;font-size:21px;left:275px;font-family:'DejaVu Sans',sans-serif;color:#808080;letter-spacing:0.318px;">2018</div>
<div class="t" style="top:1268.5px;font-size:21px;left:520.6px;font-family:'DejaVu Sans',sans-serif;color:#808080;letter-spacing:0.318px;">2020</div>
<div class="t" style="top:1332.5px;font-size:22px;left:260px;font-family:'DejaVu Sans',sans-serif;color:#808080;letter-spacing:0.037px;">Бытовая химия</div>
<div class="t" style="top:1332.5px;font-size:22px;left:520.6px;font-family:'DejaVu Sans',sans-serif;color:#808080;letter-spacing:-0.128px;">Бытовые товары</div>
<div class="t" style="top:1368.8px;font-size:22px;left:260px;font-family:'DejaVu Sans',sans-serif;color:#808080;letter-spacing:0.527px;">Техника для дома</div>
<!-- p_map -->
<div class="abs" style="left:788px;top:208px;width:882px;height:1250px;background:#fff;border-radius:4px;"></div>
<div class="t" style="top:236.0px;font-size:30px;left:820.5px;letter-spacing:0.243px;">Карта продаж</div>
<svg width="882" height="1141" viewBox="0 0 882 1141" style="left:788px;top:296px;overflow:hidden;font-family:'Liberation Sans',sans-serif">
<defs><filter id="mb" x="-2%" y="-2%" width="104%" height="104%"><feGaussianBlur stdDeviation="0.55"/></filter></defs>
<rect width="882" height="1141" fill="#f8f6f1"/>
<g filter="url(#mb)">
<path d="M0.0 610.0C15.0 555.6 131.3 595.6 150.0 600.0C168.7 604.4 178.3 639.3 187.0 654.0C195.7 668.7 225.7 727.7 237.0 747.0C248.3 766.3 290.0 831.3 300.0 847.0C310.0 862.7 324.5 894.3 337.0 904.0C349.5 913.7 406.2 937.8 425.0 944.0C443.8 950.2 507.2 964.5 525.0 966.0C542.8 967.5 586.4 966.0 603.0 959.0C619.6 952.0 676.0 908.5 691.0 896.0C706.0 883.5 742.4 844.6 753.0 834.0C763.6 823.4 788.3 796.4 797.0 790.0C805.7 783.6 831.5 773.0 840.0 770.0C848.5 767.0 877.8 722.6 882.0 760.0C886.2 797.4 970.2 1105.6 882.0 1144.0C793.8 1182.4 88.2 1197.4 0.0 1144.0C-88.2 1090.6 -15.0 664.4 0.0 610.0Z" fill="#fdfdf6"/>
<path d="M0.0 0.0C12.0 -20.0 114.0 -12.0 120.0 0.0C126.0 12.0 72.0 100.0 60.0 120.0C48.0 140.0 6.0 212.0 0.0 200.0C-6.0 188.0 -12.0 20.0 0.0 0.0Z" fill="#fdfdf6"/>
<path d="M866.0 15.0C867.6 -9.5 880.4 -9.5 882.0 15.0C883.6 39.5 883.6 235.5 882.0 260.0C880.4 284.5 867.6 284.5 866.0 260.0C864.4 235.5 864.4 39.5 866.0 15.0Z" fill="#fdfdf6"/>
<path d="M0.0 380.0C6.0 367.0 49.0 366.0 60.0 370.0C71.0 374.0 110.0 409.0 110.0 420.0C110.0 431.0 71.0 472.0 60.0 480.0C49.0 488.0 6.0 510.0 0.0 500.0C-6.0 490.0 -6.0 393.0 0.0 380.0Z" fill="#fdfdf6"/>
<path d="M150.0 100.0C180.0 81.7 300.0 79.2 330.0 90.0C360.0 100.8 346.7 150.0 330.0 165.0C313.3 180.0 256.7 167.5 230.0 180.0C203.3 192.5 183.3 236.7 170.0 240.0C156.7 243.3 153.3 223.3 150.0 200.0C146.7 176.7 120.0 118.3 150.0 100.0Z" fill="#f8f6f1"/>
<path d="M0.0 270.0C21.7 255.0 101.7 250.0 130.0 260.0C158.3 270.0 170.0 315.0 170.0 330.0C170.0 345.0 158.3 346.7 130.0 350.0C101.7 353.3 21.7 363.3 0.0 350.0C-21.7 336.7 -21.7 285.0 0.0 270.0Z" fill="#f8f6f1"/>
<path d="M826.0 420.0C835.3 400.0 872.7 393.3 882.0 410.0C891.3 426.7 891.3 500.0 882.0 520.0C872.7 540.0 835.3 546.7 826.0 530.0C816.7 513.3 816.7 440.0 826.0 420.0Z" fill="#f8f6f1"/>
<path d="M826.0 590.0C837.8 575.0 872.7 581.7 882.0 600.0C891.3 618.3 893.8 685.0 882.0 700.0C870.2 715.0 820.3 708.3 811.0 690.0C801.7 671.7 814.2 605.0 826.0 590.0Z" fill="#f8f6f1"/>
<path d="M560.0 960.0C571.7 950.0 623.3 936.7 640.0 950.0C656.7 963.3 666.7 1021.7 660.0 1040.0C653.3 1058.3 615.0 1065.0 600.0 1060.0C585.0 1055.0 576.7 1026.7 570.0 1010.0C563.3 993.3 548.3 970.0 560.0 960.0Z" fill="#f8f6f1"/>
<path d="M700.0 760.0C727.0 748.3 851.7 736.7 882.0 750.0C912.3 763.3 902.3 823.3 882.0 840.0C861.7 856.7 787.0 853.3 760.0 850.0C733.0 846.7 730.0 835.0 720.0 820.0C710.0 805.0 673.0 771.7 700.0 760.0Z" fill="#f8f6f1"/>
<path d="M240.0 0.0C276.7 -6.7 431.7 -5.0 470.0 0.0C508.3 5.0 478.3 14.2 470.0 30.0C461.7 45.8 435.0 83.3 420.0 95.0C405.0 106.7 395.0 105.8 380.0 100.0C365.0 94.2 351.7 70.0 330.0 60.0C308.3 50.0 265.0 50.0 250.0 40.0C235.0 30.0 203.3 6.7 240.0 0.0Z" fill="#f8f6f1"/>
<path d="M0.0 560.0C23.3 543.3 113.3 530.0 140.0 540.0C166.7 550.0 173.3 600.0 160.0 620.0C146.7 640.0 86.7 656.7 60.0 660.0C33.3 663.3 10.0 656.7 0.0 640.0C-10.0 623.3 -23.3 576.7 0.0 560.0Z" fill="#f8f6f1"/>
<path d="M430.0 950.0C445.0 920.2 501.7 932.7 520.0 965.0C538.3 997.3 555.0 1114.2 540.0 1144.0C525.0 1173.8 448.3 1176.3 430.0 1144.0C411.7 1111.7 415.0 979.8 430.0 950.0Z" fill="#f8f6f1"/>
<path d="M200.0 940.0C216.7 921.7 296.7 918.3 330.0 930.0C363.3 941.7 400.0 988.3 400.0 1010.0C400.0 1031.7 358.3 1055.0 330.0 1060.0C301.7 1065.0 251.7 1060.0 230.0 1040.0C208.3 1020.0 183.3 958.3 200.0 940.0Z" fill="#f8f6f1"/>
<path d="M0.0 0.0C10.0 -4.0 94.0 -3.0 100.0 0.0C106.0 3.0 70.0 26.0 60.0 30.0C50.0 34.0 6.0 43.0 0.0 40.0C-6.0 37.0 -10.0 4.0 0.0 0.0Z" fill="#eaf3de"/>
<path d="M866.0 15.0C867.6 -9.7 880.4 -9.7 882.0 15.0C883.6 39.7 883.6 237.3 882.0 262.0C880.4 286.7 867.6 286.7 866.0 262.0C864.4 237.3 864.4 39.7 866.0 15.0Z" fill="#eaf3de"/>
<path d="M470.0 30.0C475.1 20.0 502.4 -3.0 506.0 20.0C509.6 43.0 509.6 237.0 506.0 260.0C502.4 283.0 475.1 264.0 470.0 250.0C464.9 236.0 455.0 142.0 455.0 120.0C455.0 98.0 464.9 40.0 470.0 30.0Z" fill="#eaf3de"/>
<path d="M0.0 884.0C2.5 879.5 20.5 877.0 25.0 879.0C29.5 881.0 46.0 899.5 45.0 904.0C44.0 908.5 19.5 922.0 15.0 924.0C10.5 926.0 1.5 928.0 0.0 924.0C-1.5 920.0 -2.5 888.5 0.0 884.0Z" fill="#e7e7f4"/>
<path d="M312.0 1109.0C316.3 1104.2 343.7 1095.3 350.0 1096.0C356.3 1096.7 372.5 1111.2 375.0 1116.0C377.5 1120.8 381.8 1141.2 375.0 1144.0C368.2 1146.8 313.3 1147.5 307.0 1144.0C300.7 1140.5 307.7 1113.8 312.0 1109.0Z" fill="#e7e7f4"/>
<path d="M0.0 45.0C1.2 41.0 27.5 40.6 30.0 40.0C32.5 39.4 59.8 29.9 62.0 30.0C64.2 30.1 83.3 40.6 85.0 42.0C86.7 43.4 103.2 63.4 105.0 65.0C106.8 66.6 128.2 80.8 130.0 82.0C131.8 83.2 149.6 93.8 150.0 95.0C150.4 96.2 141.4 110.6 140.0 112.0C138.6 113.4 116.8 128.5 115.0 130.0C113.2 131.5 96.6 148.2 95.0 150.0C93.4 151.8 76.8 173.6 75.0 175.0C73.2 176.4 52.0 185.0 50.0 185.0C48.0 185.0 26.4 176.4 25.0 175.0C23.6 173.6 16.0 151.4 15.0 150.0C14.0 148.6 0.6 144.2 0.0 140.0C-0.6 135.8 -1.2 49.0 0.0 45.0Z M140.0 100.0C141.2 98.9 158.8 91.5 160.0 92.0C161.2 92.5 169.4 110.1 170.0 112.0C170.6 113.9 174.4 137.5 175.0 140.0C175.6 142.5 185.0 173.2 185.0 175.0C185.0 176.8 176.4 185.0 175.0 185.0C173.6 185.0 151.6 176.4 150.0 175.0C148.4 173.6 135.8 152.2 135.0 150.0C134.2 147.8 129.8 122.0 130.0 120.0C130.2 118.0 138.8 101.1 140.0 100.0Z M190.0 30.0C191.3 28.7 223.0 24.2 225.0 25.0C227.0 25.8 240.2 48.4 240.0 50.0C239.8 51.6 221.9 64.7 220.0 65.0C218.1 65.3 193.2 58.4 192.0 57.0C190.8 55.6 188.7 31.3 190.0 30.0Z M250.0 35.0C251.7 33.6 295.0 31.2 297.0 32.0C299.0 32.8 300.7 53.0 300.0 55.0C299.3 57.0 281.8 81.5 280.0 82.0C278.2 82.5 256.2 68.9 255.0 67.0C253.8 65.1 248.3 36.4 250.0 35.0Z M332.0 105.0C333.3 103.5 367.9 89.7 370.0 90.0C372.1 90.3 385.2 110.4 385.0 112.0C384.8 113.6 366.9 129.4 365.0 130.0C363.1 130.6 338.3 128.0 337.0 127.0C335.7 126.0 330.7 106.5 332.0 105.0Z M415.0 32.0C417.2 30.4 471.4 24.3 475.0 25.0C478.6 25.7 503.8 47.7 505.0 50.0C506.2 52.3 507.2 81.0 505.0 82.0C502.8 83.0 453.4 75.7 450.0 75.0C446.6 74.3 421.4 66.7 420.0 65.0C418.6 63.3 412.8 33.6 415.0 32.0Z M0.0 225.0C1.3 222.2 30.3 211.4 32.0 212.0C33.7 212.6 42.4 237.4 42.0 240.0C41.6 242.6 23.7 275.3 22.0 277.0C20.3 278.7 0.9 284.1 0.0 282.0C-0.9 279.9 -1.3 227.8 0.0 225.0Z M122.0 227.0C123.5 226.4 148.5 235.5 150.0 237.0C151.5 238.5 160.4 262.6 160.0 265.0C159.6 267.4 141.7 296.3 140.0 297.0C138.3 297.7 118.1 283.8 117.0 282.0C115.9 280.2 111.8 254.2 112.0 252.0C112.2 249.8 120.5 227.6 122.0 227.0Z M558.0 0.0C571.0 -0.6 869.0 -0.6 882.0 0.0C895.0 0.6 895.0 14.4 882.0 15.0C869.0 15.6 571.0 15.6 558.0 15.0C545.0 14.4 545.0 0.6 558.0 0.0Z M0.0 436.0C1.0 433.0 23.4 430.0 25.0 431.0C26.6 432.0 39.5 458.3 40.0 461.0C40.5 463.7 38.0 496.0 37.0 498.0C36.0 500.0 16.5 510.7 15.0 511.0C13.5 511.3 0.6 509.0 0.0 506.0C-0.6 503.0 -1.0 439.0 0.0 436.0Z M37.0 511.0C38.7 509.2 79.7 505.0 82.0 506.0C84.3 507.0 95.3 534.0 95.0 536.0C94.7 538.0 77.2 555.4 75.0 556.0C72.8 556.6 41.5 552.8 40.0 551.0C38.5 549.2 35.3 512.8 37.0 511.0Z M0.0 536.0C1.0 534.3 23.6 530.0 25.0 531.0C26.4 532.0 36.0 559.3 35.0 561.0C34.0 562.7 1.4 574.0 0.0 573.0C-1.4 572.0 -1.0 537.7 0.0 536.0Z M826.0 351.0C828.0 347.0 879.8 323.8 882.0 326.0C884.2 328.2 884.0 402.0 882.0 406.0C880.0 410.0 833.2 428.2 831.0 426.0C828.8 423.8 824.0 355.0 826.0 351.0Z M853.0 548.0C853.6 546.5 880.8 535.0 882.0 536.0C883.2 537.0 882.6 571.5 882.0 573.0C881.4 574.5 867.2 574.0 866.0 573.0C864.8 572.0 852.4 549.5 853.0 548.0Z M105.0 712.0C106.6 710.4 146.2 702.0 150.0 702.0C153.8 702.0 198.2 710.6 200.0 712.0C201.8 713.4 197.0 735.6 195.0 737.0C193.0 738.4 153.4 746.8 150.0 747.0C146.6 747.2 111.8 743.4 110.0 742.0C108.2 740.6 103.4 713.6 105.0 712.0Z M0.0 622.0C1.8 620.9 43.8 625.7 45.0 627.0C46.2 628.3 31.8 652.9 30.0 654.0C28.2 655.1 1.2 655.3 0.0 654.0C-1.2 652.7 -1.8 623.1 0.0 622.0Z M0.0 747.0C2.0 745.2 48.2 750.2 50.0 752.0C51.8 753.8 47.0 790.2 45.0 792.0C43.0 793.8 1.8 798.8 0.0 797.0C-1.8 795.2 -2.0 748.8 0.0 747.0Z M60.0 822.0C61.5 821.0 96.8 826.0 100.0 827.0C103.2 828.0 138.8 844.7 140.0 847.0C141.2 849.3 132.1 883.0 130.0 884.0C127.9 885.0 89.7 873.3 87.0 872.0C84.3 870.7 63.1 854.0 62.0 852.0C60.9 850.0 58.5 823.0 60.0 822.0Z M811.0 654.0C811.6 652.7 829.8 646.3 831.0 647.0C832.2 647.7 841.6 670.7 841.0 672.0C840.4 673.3 817.2 679.7 816.0 679.0C814.8 678.3 810.4 655.3 811.0 654.0Z M853.0 777.0C853.8 775.6 880.8 770.7 882.0 772.0C883.2 773.3 882.8 807.6 882.0 809.0C881.2 810.4 862.2 808.3 861.0 807.0C859.8 805.7 852.2 778.4 853.0 777.0Z M305.0 901.0C306.5 899.6 343.2 907.3 345.0 909.0C346.8 910.7 350.8 941.8 350.0 944.0C349.2 946.2 326.7 964.0 325.0 964.0C323.3 964.0 307.8 946.5 307.0 944.0C306.2 941.5 303.5 902.4 305.0 901.0Z M337.0 984.0C339.4 981.2 406.5 940.0 410.0 939.0C413.5 938.0 425.4 955.8 425.0 959.0C424.6 962.2 403.0 1017.0 400.0 1019.0C397.0 1021.0 352.5 1010.4 350.0 1009.0C347.5 1007.6 334.6 986.8 337.0 984.0Z M57.0 829.0C57.7 827.3 96.7 823.2 100.0 824.0C103.3 824.8 138.6 847.0 140.0 849.0C141.4 851.0 137.3 873.3 135.0 874.0C132.7 874.7 85.1 867.8 82.0 866.0C78.9 864.2 56.3 830.7 57.0 829.0Z M25.0 929.0C27.5 926.1 91.5 900.4 95.0 901.0C98.5 901.6 112.5 940.5 112.0 944.0C111.5 947.5 85.2 987.8 82.0 989.0C78.8 990.2 34.3 976.4 32.0 974.0C29.7 971.6 22.5 931.9 25.0 929.0Z M120.0 959.0C120.8 956.7 148.6 945.0 150.0 946.0C151.4 947.0 155.8 981.7 155.0 984.0C154.2 986.3 131.4 1005.0 130.0 1004.0C128.6 1003.0 119.2 961.3 120.0 959.0Z M195.0 934.0C197.0 932.6 247.0 923.2 250.0 924.0C253.0 924.8 271.0 952.0 270.0 954.0C269.0 956.0 227.8 973.8 225.0 974.0C222.2 974.2 201.2 960.6 200.0 959.0C198.8 957.4 193.0 935.4 195.0 934.0Z M112.0 1009.0C113.4 1007.6 155.5 999.0 160.0 999.0C164.5 999.0 222.6 1007.6 225.0 1009.0C227.4 1010.4 222.0 1032.5 220.0 1034.0C218.0 1035.5 178.8 1046.0 175.0 1046.0C171.2 1046.0 127.5 1035.5 125.0 1034.0C122.5 1032.5 110.6 1010.4 112.0 1009.0Z M485.0 1016.0C487.0 1015.1 535.4 1022.5 537.0 1024.0C538.6 1025.5 527.0 1053.1 525.0 1054.0C523.0 1054.9 488.6 1047.5 487.0 1046.0C485.4 1044.5 483.0 1016.9 485.0 1016.0Z M0.0 1046.0C2.5 1044.5 58.0 1033.5 62.0 1034.0C66.0 1034.5 99.5 1056.5 100.0 1059.0C100.5 1061.5 78.0 1094.7 75.0 1096.0C72.0 1097.3 28.0 1092.0 25.0 1091.0C22.0 1090.0 1.0 1072.8 0.0 1071.0C-1.0 1069.2 -2.5 1047.5 0.0 1046.0Z M175.0 1071.0C175.5 1069.0 209.5 1065.0 212.0 1066.0C214.5 1067.0 237.5 1094.0 237.0 1096.0C236.5 1098.0 202.5 1117.0 200.0 1116.0C197.5 1115.0 174.5 1073.0 175.0 1071.0Z M40.0 1116.0C42.0 1114.6 96.0 1107.9 100.0 1109.0C104.0 1110.1 142.0 1142.6 140.0 1144.0C138.0 1145.4 54.0 1145.1 50.0 1144.0C46.0 1142.9 38.0 1117.4 40.0 1116.0Z M412.0 996.0C412.9 995.1 435.9 990.3 437.0 991.0C438.1 991.7 440.9 1013.1 440.0 1014.0C439.1 1014.9 416.1 1014.7 415.0 1014.0C413.9 1013.3 411.1 996.9 412.0 996.0Z M537.0 1071.0C539.0 1070.0 598.0 1082.0 600.0 1084.0C602.0 1086.0 589.0 1120.0 587.0 1121.0C585.0 1122.0 552.0 1111.0 550.0 1109.0C548.0 1107.0 535.0 1072.0 537.0 1071.0Z M736.0 949.0C736.8 946.7 770.8 933.8 773.0 934.0C775.2 934.2 790.8 952.0 791.0 954.0C791.2 956.0 779.5 982.5 778.0 984.0C776.5 985.5 754.7 992.4 753.0 991.0C751.3 989.6 735.2 951.3 736.0 949.0Z M643.0 974.0C644.8 972.2 688.3 967.6 691.0 969.0C693.7 970.4 710.5 1006.7 711.0 1009.0C711.5 1011.3 705.6 1025.8 703.0 1026.0C700.4 1026.2 648.4 1016.1 646.0 1014.0C643.6 1011.9 641.2 975.8 643.0 974.0Z M741.0 1024.0C742.8 1023.0 789.5 1032.4 791.0 1034.0C792.5 1035.6 779.8 1063.0 778.0 1064.0C776.2 1065.0 747.5 1060.6 746.0 1059.0C744.5 1057.4 739.2 1025.0 741.0 1024.0Z M803.0 1034.0C803.5 1031.7 824.8 1013.5 828.0 1014.0C831.2 1014.5 879.8 1040.8 882.0 1046.0C884.2 1051.2 883.6 1140.1 882.0 1144.0C880.4 1147.9 843.8 1145.4 841.0 1144.0C838.2 1142.6 812.0 1111.9 811.0 1109.0C810.0 1106.1 816.3 1074.0 816.0 1071.0C815.7 1068.0 802.5 1036.3 803.0 1034.0Z M441.0 1071.0C442.5 1067.9 476.0 1064.5 478.0 1066.0C480.0 1067.5 491.5 1105.9 491.0 1109.0C490.5 1112.1 468.0 1142.6 466.0 1144.0C464.0 1145.4 442.0 1146.9 441.0 1144.0C440.0 1141.1 439.5 1074.1 441.0 1071.0Z M536.0 1096.0C537.0 1094.3 569.2 1089.7 571.0 1091.0C572.8 1092.3 582.0 1127.3 581.0 1129.0C580.0 1130.7 547.8 1135.3 546.0 1134.0C544.2 1132.7 535.0 1097.7 536.0 1096.0Z M728.0 1071.0C728.8 1068.8 759.5 1064.5 761.0 1066.0C762.5 1067.5 766.8 1106.8 766.0 1109.0C765.2 1111.2 742.5 1122.5 741.0 1121.0C739.5 1119.5 727.2 1073.2 728.0 1071.0Z M716.0 1109.0C717.7 1107.9 752.0 1114.6 753.0 1116.0C754.0 1117.4 742.7 1142.9 741.0 1144.0C739.3 1145.1 712.0 1145.4 711.0 1144.0C710.0 1142.6 714.3 1110.1 716.0 1109.0Z" fill="#e4f0d5"/>
<path d="M272.0 315.0C273.6 313.8 312.5 303.8 315.0 305.0C317.5 306.2 335.8 343.0 335.0 345.0C334.2 347.0 297.4 355.4 295.0 355.0C292.6 354.6 275.9 336.6 275.0 335.0C274.1 333.4 270.4 316.2 272.0 315.0Z M382.0 295.0C383.2 292.8 413.2 298.0 415.0 300.0C416.8 302.0 427.2 342.3 427.0 345.0C426.8 347.7 411.7 367.6 410.0 368.0C408.3 368.4 386.1 357.9 385.0 355.0C383.9 352.1 380.8 297.2 382.0 295.0Z M180.0 317.0C181.1 316.4 200.2 324.0 202.0 325.0C203.8 326.0 224.3 341.3 225.0 343.0C225.7 344.7 221.4 367.3 220.0 368.0C218.6 368.7 191.8 362.1 190.0 361.0C188.2 359.9 175.4 342.8 175.0 341.0C174.6 339.2 178.9 317.6 180.0 317.0Z M560.0 287.0C561.0 285.5 596.8 275.0 600.0 275.0C603.2 275.0 638.4 285.1 640.0 287.0C641.6 288.9 641.6 320.3 640.0 322.0C638.4 323.7 602.6 330.4 600.0 330.0C597.4 329.6 576.6 313.7 575.0 312.0C573.4 310.3 559.0 288.5 560.0 287.0Z M457.0 282.0C458.2 280.5 488.3 273.8 490.0 275.0C491.7 276.2 500.6 309.7 500.0 312.0C499.4 314.3 476.6 332.0 475.0 332.0C473.4 332.0 460.7 314.0 460.0 312.0C459.3 310.0 455.8 283.5 457.0 282.0Z M591.0 265.0C596.5 263.4 745.0 260.8 753.0 262.0C761.0 263.2 787.9 294.5 791.0 295.0C794.1 295.5 827.4 276.0 831.0 275.0C834.6 274.0 880.0 268.3 882.0 270.0C884.0 271.7 884.0 315.4 882.0 318.0C880.0 320.6 833.6 335.8 831.0 336.0C828.4 336.2 817.6 324.5 816.0 323.0C814.4 321.5 793.5 298.0 791.0 298.0C788.5 298.0 756.5 321.7 753.0 323.0C749.5 324.3 706.5 331.3 703.0 331.0C699.5 330.7 669.5 317.2 666.0 316.0C662.5 314.8 619.0 303.0 616.0 301.0C613.0 299.0 585.5 266.6 591.0 265.0Z M441.0 265.0C442.8 262.9 483.6 258.6 486.0 260.0C488.4 261.4 501.5 297.4 501.0 300.0C500.5 302.6 475.4 324.5 473.0 325.0C470.6 325.5 442.3 314.4 441.0 312.0C439.7 309.6 439.2 267.1 441.0 265.0Z M187.0 406.0C189.6 404.5 247.5 401.8 250.0 403.0C252.5 404.2 249.2 433.7 250.0 436.0C250.8 438.3 269.0 459.0 270.0 461.0C271.0 463.0 275.8 484.0 275.0 486.0C274.2 488.0 252.0 510.3 250.0 511.0C248.0 511.7 227.0 504.4 225.0 503.0C223.0 501.6 201.6 478.5 200.0 476.0C198.4 473.5 185.5 443.8 185.0 441.0C184.5 438.2 184.4 407.5 187.0 406.0Z M150.0 426.0C151.5 424.6 183.4 419.6 185.0 421.0C186.6 422.4 188.9 458.4 190.0 461.0C191.1 463.6 210.6 483.5 212.0 486.0C213.4 488.5 225.5 520.6 225.0 523.0C224.5 525.4 202.0 545.7 200.0 546.0C198.0 546.3 176.8 533.2 175.0 531.0C173.2 528.8 156.1 494.0 155.0 491.0C153.9 488.0 147.2 458.6 147.0 456.0C146.8 453.4 148.5 427.4 150.0 426.0Z M275.0 506.0C278.2 504.7 315.4 502.2 317.0 503.0C318.6 503.8 316.5 524.7 315.0 526.0C313.5 527.3 282.6 535.2 280.0 536.0C277.4 536.8 251.7 546.0 250.0 546.0C248.3 546.0 236.0 537.6 237.0 536.0C238.0 534.4 271.8 507.3 275.0 506.0Z M372.0 311.0C373.0 308.8 407.9 305.0 410.0 306.0C412.1 307.0 425.0 333.5 425.0 336.0C425.0 338.5 411.6 367.0 410.0 368.0C408.4 369.0 386.5 363.3 385.0 361.0C383.5 358.7 371.0 313.2 372.0 311.0Z M272.0 306.0C273.1 304.3 304.9 300.3 307.0 301.0C309.1 301.7 324.8 321.0 325.0 323.0C325.2 325.0 313.8 350.2 312.0 351.0C310.2 351.8 281.6 344.8 280.0 343.0C278.4 341.2 270.9 307.7 272.0 306.0Z M317.0 558.0C317.7 557.0 340.7 550.6 342.0 551.0C343.3 551.4 350.7 567.0 350.0 568.0C349.3 569.0 326.3 576.4 325.0 576.0C323.7 575.6 316.3 559.0 317.0 558.0Z M460.0 286.0C464.4 285.2 570.4 285.5 575.0 286.0C579.6 286.5 578.0 296.8 575.0 298.0C572.0 299.2 504.4 315.7 500.0 316.0C495.6 316.3 466.6 307.2 465.0 306.0C463.4 304.8 455.6 286.8 460.0 286.0Z M687.0 416.0C691.1 414.0 786.8 409.4 791.0 411.0C795.2 412.6 792.0 453.4 791.0 456.0C790.0 458.6 769.7 474.9 766.0 476.0C762.3 477.1 701.1 483.6 698.0 483.0C694.9 482.4 688.4 463.7 688.0 461.0C687.6 458.3 682.9 418.0 687.0 416.0Z M796.0 396.0C797.1 394.4 821.9 389.8 823.0 391.0C824.1 392.2 824.1 424.4 823.0 426.0C821.9 427.6 797.1 432.2 796.0 431.0C794.9 429.8 794.9 397.6 796.0 396.0Z M561.0 336.0C563.0 335.6 599.8 342.0 601.0 343.0C602.2 344.0 592.6 360.0 591.0 361.0C589.4 362.0 562.6 368.3 561.0 368.0C559.4 367.7 551.0 354.3 551.0 353.0C551.0 351.7 559.0 336.4 561.0 336.0Z M478.0 301.0C479.0 300.3 502.2 305.1 503.0 306.0C503.8 306.9 499.0 322.3 498.0 323.0C497.0 323.7 478.8 323.9 478.0 323.0C477.2 322.1 477.0 301.7 478.0 301.0Z M746.0 536.0C747.5 534.3 784.4 525.4 786.0 526.0C787.6 526.6 786.8 549.1 786.0 551.0C785.2 552.9 767.5 572.3 766.0 573.0C764.5 573.7 748.8 569.5 748.0 568.0C747.2 566.5 744.5 537.7 746.0 536.0Z M763.0 461.0C764.0 460.0 789.7 457.2 791.0 458.0C792.3 458.8 797.0 480.0 796.0 481.0C795.0 482.0 767.3 483.8 766.0 483.0C764.7 482.2 762.0 462.0 763.0 461.0Z M230.0 767.0C231.4 764.5 267.9 727.2 270.0 727.0C272.1 726.8 282.3 759.4 282.0 762.0C281.7 764.6 263.9 790.9 262.0 792.0C260.1 793.1 236.3 790.0 235.0 789.0C233.7 788.0 228.6 769.5 230.0 767.0Z M310.0 667.0C310.6 665.8 333.8 661.0 335.0 662.0C336.2 663.0 340.6 690.8 340.0 692.0C339.4 693.2 321.2 693.0 320.0 692.0C318.8 691.0 309.4 668.2 310.0 667.0Z M282.0 792.0C284.0 791.2 322.8 795.8 325.0 797.0C327.2 798.2 338.0 820.5 337.0 822.0C336.0 823.5 302.5 834.2 300.0 834.0C297.5 833.8 275.7 818.7 275.0 817.0C274.3 815.3 280.0 792.8 282.0 792.0Z M390.0 779.0C392.2 778.2 423.0 786.8 425.0 789.0C427.0 791.2 440.0 830.2 440.0 834.0C440.0 837.8 426.6 880.1 425.0 884.0C423.4 887.9 403.0 930.1 400.0 932.0C397.0 933.9 351.8 933.9 350.0 932.0C348.2 930.1 355.2 887.6 355.0 884.0C354.8 880.4 344.4 845.0 345.0 842.0C345.6 839.0 368.2 811.5 370.0 809.0C371.8 806.5 387.8 779.8 390.0 779.0Z M575.0 809.0C576.5 807.3 610.8 802.0 612.0 804.0C613.2 806.0 606.0 855.8 605.0 859.0C604.0 862.2 588.2 884.5 587.0 884.0C585.8 883.5 575.5 850.0 575.0 847.0C574.5 844.0 573.5 810.7 575.0 809.0Z M537.0 897.0C539.0 895.4 595.9 891.5 600.0 892.0C604.1 892.5 638.4 907.4 640.0 909.0C641.6 910.6 643.6 931.1 640.0 932.0C636.4 932.9 554.1 933.4 550.0 932.0C545.9 930.6 535.0 898.6 537.0 897.0Z M701.0 664.0C701.2 662.6 713.9 644.4 716.0 644.0C718.1 643.6 750.0 653.1 753.0 654.0C756.0 654.9 789.1 665.3 791.0 667.0C792.9 668.7 801.7 695.6 801.0 697.0C800.3 698.4 775.4 702.8 773.0 702.0C770.6 701.2 743.5 677.9 741.0 677.0C738.5 676.1 712.6 679.5 711.0 679.0C709.4 678.5 700.8 665.4 701.0 664.0Z M776.0 712.0C777.5 710.3 813.4 701.6 816.0 702.0C818.6 702.4 840.7 720.2 841.0 722.0C841.3 723.8 825.5 746.1 823.0 747.0C820.5 747.9 779.9 745.4 778.0 744.0C776.1 742.6 774.5 713.7 776.0 712.0Z M726.0 782.0C726.6 780.2 740.2 775.4 741.0 777.0C741.8 778.6 746.6 820.2 746.0 822.0C745.4 823.8 726.8 823.6 726.0 822.0C725.2 820.4 725.4 783.8 726.0 782.0Z M626.0 789.0C628.4 788.7 688.6 788.7 691.0 789.0C693.4 789.3 688.4 796.7 686.0 797.0C683.6 797.3 633.4 797.3 631.0 797.0C628.6 796.7 623.6 789.3 626.0 789.0Z M581.0 837.0C581.4 834.2 599.8 807.6 601.0 807.0C602.2 806.4 610.8 819.9 611.0 822.0C611.2 824.1 606.8 856.8 606.0 859.0C605.2 861.2 592.0 877.9 591.0 877.0C590.0 876.1 580.6 839.8 581.0 837.0Z M591.0 897.0C592.0 895.2 619.4 885.6 621.0 887.0C622.6 888.4 632.0 930.2 631.0 932.0C630.0 933.8 597.6 933.4 596.0 932.0C594.4 930.6 590.0 898.8 591.0 897.0Z M390.0 901.0C391.5 899.8 447.1 914.5 450.0 916.0C452.9 917.5 463.5 937.8 462.0 939.0C460.5 940.2 414.9 947.5 412.0 946.0C409.1 944.5 388.5 902.2 390.0 901.0Z M562.0 834.0C563.2 832.5 598.7 827.5 600.0 829.0C601.3 830.5 596.2 869.5 595.0 871.0C593.8 872.5 571.3 867.5 570.0 866.0C568.7 864.5 560.8 835.5 562.0 834.0Z M571.0 834.0C572.6 831.8 613.6 827.0 616.0 829.0C618.4 831.0 631.8 880.2 631.0 884.0C630.2 887.8 598.2 924.0 596.0 924.0C593.8 924.0 577.0 887.6 576.0 884.0C575.0 880.4 569.4 836.2 571.0 834.0Z" fill="#dcecc8"/>
<path d="M257.0 190.0C258.6 188.0 265.9 192.3 269.0 197.0C272.1 201.7 276.5 216.3 280.0 225.0C283.5 233.7 291.8 252.7 295.0 262.0C298.2 271.3 303.3 288.6 304.0 295.0C304.7 301.4 301.7 308.4 300.0 310.0C298.3 311.6 293.7 311.7 291.0 307.0C288.3 302.3 283.5 284.3 280.0 275.0C276.5 265.7 268.1 245.4 265.0 237.0C261.9 228.6 258.1 218.3 257.0 212.0C255.9 205.7 255.4 192.0 257.0 190.0Z M205.0 386.0C206.3 382.7 214.7 376.7 220.0 376.0C225.3 375.3 241.7 378.1 245.0 381.0C248.3 383.9 247.7 394.7 245.0 398.0C242.3 401.3 229.7 405.6 225.0 406.0C220.3 406.4 212.7 403.7 210.0 401.0C207.3 398.3 203.7 389.3 205.0 386.0Z M573.0 637.0C575.0 636.1 590.3 646.1 596.0 647.0C601.7 647.9 611.3 643.3 616.0 644.0C620.7 644.7 627.7 648.3 631.0 652.0C634.3 655.7 639.4 665.3 641.0 672.0C642.6 678.7 643.4 695.3 643.0 702.0C642.6 708.7 640.3 720.0 638.0 722.0C635.7 724.0 626.9 721.0 626.0 717.0C625.1 713.0 631.4 698.0 631.0 692.0C630.6 686.0 626.7 675.3 623.0 672.0C619.3 668.7 608.6 669.4 603.0 667.0C597.4 664.6 585.0 658.0 581.0 654.0C577.0 650.0 571.0 637.9 573.0 637.0Z M97.0 46.0C98.1 44.9 103.2 48.1 104.0 50.0C104.8 51.9 104.1 58.9 103.0 60.0C101.9 61.1 96.8 59.9 96.0 58.0C95.2 56.1 95.9 47.1 97.0 46.0Z M826.0 574.0C827.1 571.9 833.3 570.7 836.0 572.0C838.7 573.3 845.7 581.3 846.0 584.0C846.3 586.7 840.4 591.5 838.0 592.0C835.6 592.5 829.6 590.4 828.0 588.0C826.4 585.6 824.9 576.1 826.0 574.0Z M831.0 576.0C832.1 574.4 839.7 577.7 841.0 580.0C842.3 582.3 842.1 591.4 841.0 593.0C839.9 594.6 834.3 594.3 833.0 592.0C831.7 589.7 829.9 577.6 831.0 576.0Z M583.0 645.0C588.3 643.3 632.4 651.4 640.0 655.0C647.6 658.6 645.3 670.3 640.0 672.0C634.7 673.7 607.6 671.6 600.0 668.0C592.4 664.4 577.7 646.7 583.0 645.0Z" fill="#b4daf2"/>
<path d="M350.0 486.0C352.0 488.8 358.3 497.7 362.0 503.0C365.7 508.3 367.0 515.0 372.0 518.0C377.0 521.0 385.3 522.3 392.0 521.0C398.7 519.7 404.5 513.0 412.0 510.0C419.5 507.0 432.8 504.2 437.0 503.0" fill="none" stroke="#b4daf2" stroke-width="3.5" stroke-linecap="round" stroke-linejoin="round"/>
<path d="M437.0 503.0C434.2 507.5 427.0 520.5 420.0 530.0C413.0 539.5 400.5 551.0 395.0 560.0C389.5 569.0 388.0 578.0 387.0 584.0C386.0 590.0 387.0 592.3 389.0 596.0C391.0 599.7 394.2 603.7 399.0 606.0C403.8 608.3 411.7 610.5 418.0 610.0C424.3 609.5 431.8 606.3 437.0 603.0C442.2 599.7 445.3 595.3 449.0 590.0C452.7 584.7 456.2 577.0 459.0 571.0C461.8 565.0 461.3 559.8 466.0 554.0C470.7 548.2 480.8 540.8 487.0 536.0C493.2 531.2 499.7 528.5 503.0 525.0C506.3 521.5 506.3 516.7 507.0 515.0" fill="none" stroke="#b4daf2" stroke-width="3.5" stroke-linecap="round" stroke-linejoin="round"/>
<path d="M507.0 515.0C511.0 516.0 525.0 515.8 531.0 521.0C537.0 526.2 540.5 539.3 543.0 546.0C545.5 552.7 543.8 555.7 546.0 561.0C548.2 566.3 556.5 572.5 556.0 578.0C555.5 583.5 545.5 588.8 543.0 594.0C540.5 599.2 544.2 604.7 541.0 609.0C537.8 613.3 528.5 616.3 524.0 620.0C519.5 623.7 515.7 623.7 514.0 631.0C512.3 638.3 514.0 658.5 514.0 664.0" fill="none" stroke="#b4daf2" stroke-width="3.5" stroke-linecap="round" stroke-linejoin="round"/>
<path d="M300.0 0.0C301.7 5.0 308.8 19.7 310.0 30.0C311.2 40.3 309.5 51.2 307.0 62.0C304.5 72.8 299.2 85.8 295.0 95.0C290.8 104.2 285.8 107.8 282.0 117.0C278.2 126.2 274.8 141.2 272.0 150.0C269.2 158.8 267.0 163.3 265.0 170.0C263.0 176.7 260.8 186.7 260.0 190.0" fill="none" stroke="#b4daf2" stroke-width="2.5" stroke-linecap="round" stroke-linejoin="round"/>
<path d="M82.0 360.0C85.8 358.3 95.3 352.2 105.0 350.0C114.7 347.8 130.5 350.0 140.0 347.0C149.5 344.0 157.0 338.2 162.0 332.0C167.0 325.8 166.2 315.0 170.0 310.0C173.8 305.0 179.2 301.2 185.0 302.0C190.8 302.8 199.2 308.7 205.0 315.0C210.8 321.3 214.2 333.3 220.0 340.0C225.8 346.7 235.0 351.7 240.0 355.0C245.0 358.3 248.3 359.2 250.0 360.0" fill="none" stroke="#b4daf2" stroke-width="7" stroke-linecap="round" stroke-linejoin="round"/>
<path d="M140.0 331.0C137.5 335.2 131.7 349.8 125.0 356.0C118.3 362.2 107.2 362.2 100.0 368.0C92.8 373.8 81.2 384.7 82.0 391.0C82.8 397.3 100.3 400.2 105.0 406.0C109.7 411.8 111.7 417.7 110.0 426.0C108.3 434.3 101.7 449.3 95.0 456.0C88.3 462.7 79.7 465.2 70.0 466.0C60.3 466.8 47.0 460.2 37.0 461.0C27.0 461.8 16.2 466.8 10.0 471.0C3.8 475.2 1.7 483.5 0.0 486.0" fill="none" stroke="#b4daf2" stroke-width="3" stroke-linecap="round" stroke-linejoin="round"/>
<path d="M180.0 311.0C183.3 312.7 194.2 315.2 200.0 321.0C205.8 326.8 208.3 339.3 215.0 346.0C221.7 352.7 234.2 355.2 240.0 361.0C245.8 366.8 249.2 374.0 250.0 381.0C250.8 388.0 250.5 398.8 245.0 403.0C239.5 407.2 225.0 403.0 217.0 406.0C209.0 409.0 201.5 415.2 197.0 421.0C192.5 426.8 191.2 437.7 190.0 441.0" fill="none" stroke="#b4daf2" stroke-width="3" stroke-linecap="round" stroke-linejoin="round"/>
<path d="M250.0 441.0C252.5 443.5 260.8 450.2 265.0 456.0C269.2 461.8 275.0 468.5 275.0 476.0C275.0 483.5 270.8 495.2 265.0 501.0C259.2 506.8 245.8 506.8 240.0 511.0C234.2 515.2 229.2 521.8 230.0 526.0C230.8 530.2 238.3 535.2 245.0 536.0C251.7 536.8 262.5 535.2 270.0 531.0C277.5 526.8 285.8 518.5 290.0 511.0C294.2 503.5 293.3 493.5 295.0 486.0C296.7 478.5 295.0 469.3 300.0 466.0C305.0 462.7 316.7 462.7 325.0 466.0C333.3 469.3 343.8 479.8 350.0 486.0C356.2 492.2 358.7 498.8 362.0 503.0C365.3 507.2 368.7 509.7 370.0 511.0" fill="none" stroke="#b4daf2" stroke-width="3" stroke-linecap="round" stroke-linejoin="round"/>
<path d="M235.0 511.0 L250.0 456.0" fill="none" stroke="#b4daf2" stroke-width="3" stroke-linecap="round" stroke-linejoin="round"/>
<path d="M513.0 629.0C513.5 635.3 512.2 658.7 516.0 667.0C519.8 675.3 525.2 678.2 536.0 679.0C546.8 679.8 567.7 676.2 581.0 672.0C594.3 667.8 610.2 657.0 616.0 654.0" fill="none" stroke="#b4daf2" stroke-width="4" stroke-linecap="round" stroke-linejoin="round"/>
<path d="M638.0 722.0C632.2 720.3 612.5 711.2 603.0 712.0C593.5 712.8 585.5 720.3 581.0 727.0C576.5 733.7 574.3 744.5 576.0 752.0C577.7 759.5 584.3 766.2 591.0 772.0C597.7 777.8 605.7 783.3 616.0 787.0C626.3 790.7 640.5 794.0 653.0 794.0C665.5 794.0 680.5 789.8 691.0 787.0C701.5 784.2 708.5 779.5 716.0 777.0C723.5 774.5 731.8 768.7 736.0 772.0C740.2 775.3 739.0 786.7 741.0 797.0C743.0 807.3 744.7 824.5 748.0 834.0C751.3 843.5 753.8 849.8 761.0 854.0C768.2 858.2 779.8 859.0 791.0 859.0C802.2 859.0 817.7 851.8 828.0 854.0C838.3 856.2 849.2 864.8 853.0 872.0C856.8 879.2 848.8 888.7 851.0 897.0C853.2 905.3 861.8 913.8 866.0 922.0C870.2 930.2 873.3 939.8 876.0 946.0C878.7 952.2 881.0 956.8 882.0 959.0" fill="none" stroke="#b4daf2" stroke-width="4" stroke-linecap="round" stroke-linejoin="round"/>
<path d="M586.0 822.0C587.7 820.3 591.0 812.5 596.0 812.0C601.0 811.5 606.5 819.0 616.0 819.0C625.5 819.0 646.8 813.2 653.0 812.0" fill="none" stroke="#b4daf2" stroke-width="3" stroke-linecap="round" stroke-linejoin="round"/>
<path d="M0.0 1129.0C6.2 1125.7 24.5 1113.2 37.0 1109.0C49.5 1104.8 64.5 1108.2 75.0 1104.0C85.5 1099.8 89.2 1087.8 100.0 1084.0C110.8 1080.2 130.8 1076.8 140.0 1081.0C149.2 1085.2 148.3 1105.2 155.0 1109.0C161.7 1112.8 170.5 1101.5 180.0 1104.0C189.5 1106.5 201.2 1120.3 212.0 1124.0C222.8 1127.7 240.3 1122.7 245.0 1126.0C249.7 1129.3 240.8 1141.0 240.0 1144.0" fill="none" stroke="#b4daf2" stroke-width="1.6" stroke-linecap="round" stroke-linejoin="round"/>
<path d="M533.0 1004.0C536.0 1006.0 546.0 1014.0 551.0 1016.0C556.0 1018.0 561.0 1016.0 563.0 1016.0" fill="none" stroke="#b4daf2" stroke-width="3" stroke-linecap="round" stroke-linejoin="round"/>
<path d="M841.0 1031.0C844.3 1029.0 856.0 1021.5 861.0 1019.0C866.0 1016.5 869.3 1016.5 871.0 1016.0" fill="none" stroke="#b4daf2" stroke-width="3" stroke-linecap="round" stroke-linejoin="round"/>
<path d="M50.0 0.0C70.8 13.7 135.5 55.3 175.0 82.0C214.5 108.7 249.5 132.0 287.0 160.0C324.5 188.0 368.7 216.7 400.0 250.0C431.3 283.3 455.0 328.3 475.0 360.0C495.0 391.7 509.2 418.3 520.0 440.0C530.8 461.7 536.7 481.7 540.0 490.0 M350.0 0.0C354.2 12.5 365.8 51.7 375.0 75.0C384.2 98.3 396.7 119.2 405.0 140.0C413.3 160.8 422.2 181.7 425.0 200.0C427.8 218.3 415.8 233.3 422.0 250.0C428.2 266.7 449.8 281.7 462.0 300.0C474.2 318.3 483.7 336.7 495.0 360.0C506.3 383.3 524.2 426.7 530.0 440.0 M882.0 493.0C858.5 501.0 777.0 529.7 741.0 541.0C705.0 552.3 689.5 561.2 666.0 561.0C642.5 560.8 616.7 546.8 600.0 540.0C583.3 533.2 571.7 523.3 566.0 520.0 M0.0 330.0C10.0 332.5 38.3 348.3 60.0 345.0C81.7 341.7 111.7 317.5 130.0 310.0C148.3 302.5 163.3 301.7 170.0 300.0 M0.0 600.0C10.0 597.5 40.0 591.7 60.0 585.0C80.0 578.3 96.7 567.5 120.0 560.0C143.3 552.5 170.0 536.7 200.0 540.0C230.0 543.3 273.3 576.7 300.0 580.0C326.7 583.3 340.0 570.0 360.0 560.0C380.0 550.0 400.0 530.0 420.0 520.0C440.0 510.0 470.0 503.3 480.0 500.0 M105.0 757.0C120.8 752.8 175.8 742.0 200.0 732.0C224.2 722.0 231.3 715.3 250.0 697.0C268.7 678.7 299.5 642.8 312.0 622.0C324.5 601.2 322.8 580.3 325.0 572.0 M0.0 770.0C10.0 770.0 42.5 772.2 60.0 770.0C77.5 767.8 97.5 759.2 105.0 757.0 M501.0 722.0C501.8 734.5 503.5 778.3 506.0 797.0C508.5 815.7 510.2 819.5 516.0 834.0C521.8 848.5 534.3 865.7 541.0 884.0C547.7 902.3 552.8 924.7 556.0 944.0C559.2 963.3 554.3 980.7 560.0 1000.0C565.7 1019.3 581.5 1036.0 590.0 1060.0C598.5 1084.0 607.5 1130.0 611.0 1144.0 M541.0 884.0C547.5 880.0 570.2 870.7 580.0 860.0C589.8 849.3 596.7 826.7 600.0 820.0 M479.0 667.0C482.7 663.7 486.5 654.5 501.0 647.0C515.5 639.5 546.8 630.3 566.0 622.0C585.2 613.7 607.7 601.2 616.0 597.0 M620.0 600.0C633.3 606.7 676.7 623.3 700.0 640.0C723.3 656.7 741.5 680.0 760.0 700.0C778.5 720.0 790.7 741.7 811.0 760.0C831.3 778.3 870.2 801.7 882.0 810.0 M430.0 1144.0C431.7 1130.0 433.3 1082.3 440.0 1060.0C446.7 1037.7 461.7 1021.7 470.0 1010.0C478.3 998.3 486.7 993.3 490.0 990.0" fill="none" stroke="#bdbdbd" stroke-width="1.1"/>
<path d="M463 608Q448 587 430 567 M259 562Q257 545 260 529 M575 614Q595 633 600 660 M283 321Q266 303 243 295 M504 636Q497 660 483 681 M703 703Q723 713 733 732 M647 416Q659 452 685 479 M766 493Q766 509 768 524 M656 364Q681 336 693 301 M244 321Q210 319 181 302 M535 499Q523 487 508 479 M662 398Q672 385 679 371 M333 608Q300 625 267 640 M528 822Q524 858 536 893 M289 271Q308 267 321 253 M734 621Q746 631 762 631 M321 701Q299 719 273 729 M452 174Q435 151 432 123 M604 599Q611 612 624 620 M181 607Q187 576 184 544 M745 574Q732 598 724 625 M626 417Q635 440 654 457 M631 516Q624 537 607 549 M363 664Q338 689 318 719 M446 862Q440 880 432 897 M542 407Q547 373 534 340 M338 257Q323 245 310 231 M364 841Q348 838 337 826 M619 585Q629 595 633 610 M433 124Q446 112 464 110 M601 676Q570 678 541 666 M473 281Q456 255 452 223 M308 425Q325 401 333 374 M406 630Q393 596 382 561 M558 266Q584 280 613 285 M518 759Q509 792 494 823 M512 738Q526 770 518 804 M680 261Q686 245 700 233 M525 745Q491 732 458 718 M314 556Q285 558 256 561 M689 575Q717 597 752 601 M808 530Q808 556 807 583 M530 119Q554 124 577 120 M545 544Q523 528 503 510 M352 510Q318 502 285 513 M482 405Q455 379 445 343 M255 314Q268 296 277 276 M241 537Q216 545 190 551 M391 478Q395 459 395 440 M609 550Q579 567 545 573 M668 800Q646 802 629 817 M318 707Q299 736 278 761 M676 219Q680 204 690 193 M501 769Q482 767 467 755 M532 557Q514 551 500 539 M462 743Q455 768 445 793 M614 807Q623 837 628 869 M458 108Q489 117 519 109 M535 440Q568 459 606 462 M683 766Q647 771 619 793 M646 761Q619 779 587 779 M398 505Q369 505 340 510 M572 382Q597 390 621 403 M645 751Q618 761 596 780 M332 450Q309 455 287 447 M540 570Q518 539 490 514 M552 746Q549 763 544 780 M531 147Q558 148 584 146 M582 568Q596 586 595 608 M437 541Q439 513 425 490 M642 480Q644 509 630 535 M502 229Q495 205 497 180 M502 477Q542 476 573 452 M656 625Q678 646 702 665 M564 650Q543 645 524 655 M322 496Q311 470 317 443 M520 632Q518 651 511 669 M636 804Q649 834 667 862 M404 341Q434 330 450 304 M360 602Q356 578 355 554 M544 548Q517 527 506 496 M304 659Q277 674 255 697 M340 240Q323 224 316 202 M659 581Q627 597 594 610 M668 390Q700 370 716 336 M326 420Q303 415 281 407 M275 624Q268 591 258 559 M726 360Q747 344 767 326 M643 869Q643 887 649 903 M298 788Q282 770 271 750 M737 664Q704 674 680 699 M402 227Q424 218 447 221 M287 474Q272 471 259 463 M219 678Q210 665 201 653 M536 877Q543 895 542 913 M309 738Q293 728 281 714 M355 596Q353 576 341 559 M765 371Q775 395 775 421 M526 537Q502 554 473 561 M269 252Q240 233 212 214 M705 793Q730 813 740 844 M465 542Q461 507 467 473 M664 434Q688 458 701 490 M526 544Q512 560 494 572 M467 950Q453 947 440 941 M414 560Q392 568 372 580 M287 299Q311 272 332 242 M621 381Q638 382 653 393 M595 686Q602 719 614 751 M215 302Q191 301 171 286 M507 677Q487 667 469 652 M584 610Q590 631 601 651 M503 794Q488 786 470 784 M746 572Q761 580 778 583 M571 297Q573 269 567 242 M399 507Q384 498 366 498 M544 600Q515 577 477 577 M688 609Q698 628 716 640 M312 623Q292 604 285 577 M570 357Q590 367 612 375 M297 505Q270 513 242 508 M467 339Q490 318 520 315 M575 217Q600 221 624 228 M592 704Q567 693 541 700 M517 546Q502 563 480 568 M669 882Q639 892 607 892 M547 182Q543 157 544 131 M380 446Q345 431 309 440 M293 766Q288 750 277 738 M226 586Q214 569 208 551 M335 157Q357 148 380 143 M536 156Q540 135 543 114 M690 429Q725 416 743 384 M286 647Q273 656 257 656 M616 349Q644 365 660 392 M454 193Q435 167 429 136 M241 318Q259 304 273 286 M716 600Q747 618 782 628 M347 650Q324 658 301 666 M482 140Q503 139 521 130 M362 573Q327 590 288 581 M468 734Q458 759 439 777 M529 632Q519 662 510 694 M519 847Q482 847 448 831 M652 234Q674 245 699 247 M308 590Q282 602 262 621 M529 849Q531 863 532 877 M449 489Q436 479 419 479 M545 576Q528 575 511 570 M153 391Q161 372 166 353 M277 339Q254 314 223 299 M370 306Q389 288 400 265 M458 717Q457 753 439 784 M430 194Q432 162 424 131 M459 879Q450 915 447 952 M728 499Q750 507 773 506 M297 408Q279 404 264 394 M339 522Q339 487 353 455 M380 169Q395 153 416 149 M280 347Q254 330 235 305 M357 249Q386 234 408 211 M374 444Q358 430 337 422 M498 158Q490 144 489 129 M251 291Q232 277 216 260 M349 402Q335 397 320 395 M556 806Q526 798 496 808 M293 734Q275 704 270 669 M573 190Q571 174 573 159 M382 525Q360 533 337 540 M263 666Q248 681 230 695 M244 637Q225 611 227 578 M417 423Q404 416 391 408 M385 340Q359 317 331 296 M336 666Q308 675 291 700 M394 629Q386 601 374 575 M448 477Q416 463 387 444 M261 535Q227 550 189 548 M258 309Q265 296 271 284 M499 681Q479 662 452 654 M634 697Q617 698 599 701 M492 566Q473 591 454 616 M348 263Q354 248 367 240 M637 508Q674 507 704 528 M314 572Q302 543 301 511 M609 409Q637 388 653 357 M498 481Q531 472 557 449 M569 917Q540 925 510 929 M559 436Q571 446 585 453 M349 750Q326 745 312 727 M540 507Q507 513 480 533 M313 473Q326 438 345 406 M626 561Q620 578 605 590 M770 333Q778 311 797 300 M507 226Q526 221 545 217 M736 385Q761 374 773 350 M462 474Q469 460 476 446 M588 609Q578 644 591 678 M455 831Q440 832 426 827 M389 746Q384 760 373 770 M521 815Q501 803 477 801 M735 745Q711 772 683 796 M387 437Q404 421 416 403 M368 354Q376 340 388 328 M657 561Q654 577 643 591 M398 478Q375 477 352 470 M512 912Q502 932 500 954 M284 475Q286 454 284 434 M546 425Q574 436 603 430 M506 574Q484 595 461 615 M579 486Q597 465 613 442 M463 129Q491 125 518 118 M632 352Q642 374 661 389 M689 511Q683 545 688 580 M461 583Q449 566 434 551 M186 603Q186 583 177 564 M759 762Q731 781 698 784 M404 212Q393 179 368 154 M232 276Q218 249 193 234 M281 666Q277 648 269 631 M547 677Q553 706 558 736 M204 212Q217 194 237 182 M634 425Q647 413 657 399 M409 518Q419 498 423 476 M315 601Q294 600 274 608 M595 465Q601 496 612 526 M454 174Q451 148 434 129 M354 721Q331 711 317 692 M402 412Q425 396 447 379 M422 749Q398 721 362 714 M482 432Q460 412 435 395 M426 661Q412 674 395 683 M637 764Q638 779 646 791 M143 420Q150 405 151 388 M358 539Q342 546 324 544 M468 366Q485 347 509 341 M281 526Q273 492 283 459 M259 555Q237 556 220 570 M355 561Q362 526 365 489 M483 859Q486 891 478 922 M411 476Q387 474 364 470 M177 578Q168 561 169 541 M417 388Q390 372 363 355 M408 603Q385 620 364 640 M350 548Q346 533 351 518 M680 450Q684 470 694 489 M683 399Q714 387 741 368 M552 904Q515 905 481 918 M641 428Q657 462 651 498 M671 459Q678 482 683 506 M211 393Q217 377 214 360 M582 562Q591 582 611 593 M523 880Q516 906 521 933 M484 687Q473 700 467 716 M263 603Q247 612 230 618 M552 520Q547 553 536 585 M531 344Q536 321 534 298 M451 669Q432 639 414 608 M650 198Q659 186 664 172 M533 544Q521 579 522 616 M283 595Q271 565 256 537 M597 402Q609 419 628 429 M633 354Q634 327 644 302 M351 331Q333 320 320 304 M337 575Q332 540 312 511 M586 573Q556 565 527 574 M657 339Q676 327 689 308 M329 499Q293 493 258 488 M527 418Q531 402 526 385 M563 162Q589 151 617 155 M470 172Q494 160 520 154 M605 480Q624 463 642 445 M736 682Q707 695 685 720 M381 412Q366 399 349 388 M481 399Q501 395 516 381 M277 249Q250 230 229 205 M314 660Q294 666 280 681 M286 315Q261 296 232 284 M667 559Q685 567 700 581 M372 424Q385 404 407 393 M676 761Q686 782 689 805 M548 733Q545 748 543 762 M381 163Q399 156 411 141 M765 719Q752 739 731 750 M220 590Q217 559 212 527 M503 351Q528 356 553 357 M686 496Q725 492 758 512 M650 458Q666 450 678 436 M483 656Q481 670 476 683 M559 441Q561 420 567 399 M727 594Q750 604 771 618 M523 237Q539 236 555 231 M398 582Q373 589 347 593 M325 615Q318 600 312 585 M490 668Q465 666 445 650 M703 772Q712 797 718 822 M520 907Q514 927 517 948 M504 422Q488 392 460 371 M642 797Q610 804 577 797 M688 370Q700 362 713 354 M395 818Q373 789 346 766 M713 385Q746 378 767 352 M532 213Q567 212 600 198 M709 862Q680 864 651 866 M429 419Q397 412 369 393 M609 775Q588 781 566 780 M266 686Q268 664 256 644 M749 320Q762 354 787 382 M354 352Q366 343 373 330 M510 529Q506 511 500 493 M321 388Q299 383 277 378 M457 715Q438 691 409 682 M484 270Q500 262 515 254 M345 749Q323 726 296 708 M600 505Q627 505 648 489 M591 491Q618 484 641 469 M423 677Q414 665 401 656 M484 602Q472 614 457 623 M500 471Q489 453 473 441 M602 496Q625 486 650 483 M557 479Q566 457 576 434 M709 490Q745 503 782 500 M438 702Q416 677 385 670 M587 664Q585 684 591 703 M645 314Q663 331 688 332 M648 761Q628 762 609 770 M555 580Q522 578 491 568 M329 611Q324 594 316 577 M345 779Q333 805 320 830 M532 919Q531 934 526 950 M633 695Q615 704 595 710 M332 270Q308 247 278 233 M327 556Q323 522 303 494 M301 739Q273 719 254 689 M473 396Q464 370 450 346 M307 635Q286 641 264 645 M302 422Q289 414 275 409 M514 586Q503 607 507 630 M547 840Q548 854 553 868 M241 352Q253 335 266 318 M350 581Q334 592 314 597 M374 595Q348 617 321 637 M461 378Q489 373 516 361 M591 526Q615 535 639 545 M511 580Q495 568 489 548 M660 621Q683 648 715 661 M631 697Q608 703 586 711 M733 512Q746 550 734 587 M555 184Q576 197 600 200 M547 572Q540 607 542 643 M283 516Q284 488 281 461 M489 192Q522 189 553 176 M251 284Q232 265 206 262 M340 348Q357 324 370 299 M497 447Q521 426 551 417 M554 429Q570 432 585 435 M430 542Q401 565 368 583 M344 232Q361 226 378 219 M498 771Q480 766 461 767 M486 851Q460 833 428 824 M264 253Q232 240 202 222 M728 609Q725 625 717 640 M275 208Q260 196 252 180 M517 448Q503 426 492 403 M442 139Q459 123 482 121 M720 594Q756 604 783 630 M422 692Q407 726 375 744 M308 375Q336 359 350 331 M254 457Q265 443 266 426 M641 821Q638 859 656 893 M562 886Q536 869 506 871 M498 221Q523 207 552 201 M384 610Q349 619 328 648 M308 450Q307 415 320 383 M527 406Q518 395 513 382 M551 155Q577 156 602 150 M449 395Q424 375 401 354 M593 220Q609 230 626 237 M393 269Q424 265 447 243 M152 526Q162 500 158 473 M377 208Q386 190 404 181 M480 207Q502 202 524 208 M627 731Q599 729 573 741 M321 638Q311 626 308 611 M575 699Q555 696 534 692 M495 780Q486 803 473 825 M453 429Q460 406 478 390 M600 255Q610 228 609 200 M449 372Q435 358 433 338 M715 524Q751 526 785 516 M287 523Q276 488 272 452 M591 490Q592 510 582 527 M332 567Q302 575 276 595 M357 488Q359 462 374 441 M180 268Q195 243 214 221 M373 258Q389 252 403 242 M583 638Q550 623 514 631 M429 648Q413 664 401 683 M357 428Q382 410 396 382 M411 648Q398 658 390 673 M762 373Q776 363 787 349" fill="none" stroke="#fde0a8" stroke-width="1.800" stroke-linecap="round"/>
<path d="M0.0 7.0C7.5 8.3 27.5 10.8 45.0 15.0C62.5 19.2 84.2 23.2 105.0 32.0C125.8 40.8 159.2 62.0 170.0 68.0 M320.0 72.0C329.2 70.8 363.3 64.5 375.0 65.0C386.7 65.5 387.5 73.3 390.0 75.0 M397.0 130.0C405.8 129.5 432.0 127.0 450.0 127.0C468.0 127.0 495.8 129.5 505.0 130.0 M350.0 185.0C357.8 183.3 379.5 177.2 397.0 175.0C414.5 172.8 437.0 172.0 455.0 172.0C473.0 172.0 496.7 174.5 505.0 175.0 M275.0 220.0C280.8 218.3 297.5 212.2 310.0 210.0C322.5 207.8 343.3 207.5 350.0 207.0 M441.0 235.0C446.0 234.2 460.7 231.7 471.0 230.0C481.3 228.3 497.7 225.8 503.0 225.0 M551.0 287.0 L541.0 320.0 M603.0 787.0C613.5 787.0 647.2 788.7 666.0 787.0C684.8 785.3 707.7 778.7 716.0 777.0 M711.0 732.0C718.0 735.3 735.5 748.3 753.0 752.0C770.5 755.7 801.3 753.2 816.0 754.0C830.7 754.8 830.0 760.3 841.0 757.0C852.0 753.7 875.2 737.8 882.0 734.0 M0.0 804.0C6.2 804.8 23.3 809.8 37.0 809.0C50.7 808.2 69.5 803.2 82.0 799.0C94.5 794.8 107.0 786.5 112.0 784.0 M82.0 799.0C85.0 803.2 90.3 816.2 100.0 824.0C109.7 831.8 131.7 840.7 140.0 846.0C148.3 851.3 148.3 854.3 150.0 856.0 M150.0 856.0C154.2 860.7 162.5 872.7 175.0 884.0C187.5 895.3 212.5 913.7 225.0 924.0C237.5 934.3 243.8 938.5 250.0 946.0C256.2 953.5 260.0 965.2 262.0 969.0 M0.0 944.0C6.2 950.7 22.5 974.0 37.0 984.0C51.5 994.0 68.2 1008.2 87.0 1004.0C105.8 999.8 131.2 972.3 150.0 959.0C168.8 945.7 191.7 929.8 200.0 924.0 M87.0 1004.0C97.5 1012.3 133.3 1047.0 150.0 1054.0C166.7 1061.0 180.8 1047.3 187.0 1046.0 M232.0 1021.0C245.3 1020.2 290.3 1016.3 312.0 1016.0C333.7 1015.7 347.3 1020.2 362.0 1019.0C376.7 1017.8 389.5 1021.5 400.0 1009.0C410.5 996.5 420.8 954.8 425.0 944.0 M250.0 1059.0C266.7 1057.3 325.8 1054.0 350.0 1049.0C374.2 1044.0 387.5 1032.3 395.0 1029.0 M250.0 1059.0C252.0 1069.0 245.3 1112.8 262.0 1119.0C278.7 1125.2 334.5 1106.0 350.0 1096.0C365.5 1086.0 354.2 1065.2 355.0 1059.0 M728.0 1004.0C738.5 1002.3 765.3 994.0 791.0 994.0C816.7 994.0 866.8 1002.3 882.0 1004.0 M478.0 1016.0C478.8 1023.2 481.3 1043.5 483.0 1059.0C484.7 1074.5 487.5 1094.8 488.0 1109.0C488.5 1123.2 486.3 1138.2 486.0 1144.0 M561.0 1059.0 L616.0 1039.0 M553.0 1084.0C568.5 1079.8 629.7 1055.7 646.0 1059.0C662.3 1062.3 639.3 1099.8 651.0 1104.0C662.7 1108.2 699.8 1085.7 716.0 1084.0C732.2 1082.3 741.8 1084.0 748.0 1094.0C754.2 1104.0 752.2 1135.7 753.0 1144.0 M300.0 416.0 L255.0 436.0 M200.0 476.0C193.3 480.0 170.8 498.3 160.0 500.0C149.2 501.7 139.2 488.3 135.0 486.0 M212.0 576.0C212.5 583.3 210.8 606.0 215.0 620.0C219.2 634.0 230.3 648.3 237.0 660.0C243.7 671.7 252.0 685.0 255.0 690.0 M187.0 654.0C193.3 651.7 212.0 643.3 225.0 640.0C238.0 636.7 258.3 635.0 265.0 634.0 M265.0 634.0C270.8 631.7 290.0 630.3 300.0 620.0C310.0 609.7 320.8 580.0 325.0 572.0 M295.0 679.0 L270.0 727.0 M350.0 747.0C346.7 754.2 338.3 773.3 330.0 790.0C321.7 806.7 305.0 837.5 300.0 847.0 M390.0 757.0C395.0 757.5 411.7 766.2 420.0 760.0C428.3 753.8 436.7 726.7 440.0 720.0 M500.0 734.0 L500.0 792.0 M561.0 872.0C567.5 873.3 586.7 880.0 600.0 880.0C613.3 880.0 634.2 873.3 641.0 872.0 M491.0 872.0 L525.0 872.0 M696.0 822.0 L741.0 797.0 M753.0 637.0 L753.0 752.0 M620.0 560.0C623.3 566.7 633.2 590.3 640.0 600.0C646.8 609.7 657.5 615.0 661.0 618.0 M600.0 380.0 L650.0 388.0 M640.0 330.0 L671.0 333.0 M345.0 368.0C349.5 373.3 367.0 383.7 372.0 400.0C377.0 416.3 374.5 455.0 375.0 466.0 M400.0 393.0C402.0 400.8 410.0 426.2 412.0 440.0C414.0 453.8 412.0 470.0 412.0 476.0 M437.0 418.0C440.8 411.7 453.7 395.8 460.0 380.0C466.3 364.2 472.5 332.5 475.0 323.0 M320.0 140.0C325.0 147.5 343.0 171.3 350.0 185.0C357.0 198.7 360.0 215.8 362.0 222.0 M392.0 150.0C385.0 151.7 361.2 153.0 350.0 160.0C338.8 167.0 329.2 186.7 325.0 192.0 M395.0 200.0C405.0 201.7 437.0 205.8 455.0 210.0C473.0 214.2 495.0 222.5 503.0 225.0 M430.0 275.0 L457.0 300.0" fill="none" stroke="#fde0a8" stroke-width="2" stroke-linejoin="round"/>
<path d="M252.0 175.0C255.8 181.7 267.8 200.5 275.0 215.0C282.2 229.5 288.8 245.8 295.0 262.0C301.2 278.2 307.8 299.7 312.0 312.0C316.2 324.3 314.5 326.7 320.0 336.0C325.5 345.3 331.7 358.5 345.0 368.0C358.3 377.5 384.7 384.7 400.0 393.0C415.3 401.3 420.3 405.2 437.0 418.0C453.7 430.8 480.2 455.0 500.0 470.0C519.8 485.0 546.7 501.7 556.0 508.0 M390.0 0.0C390.8 6.2 395.0 24.5 395.0 37.0C395.0 49.5 391.0 62.5 390.0 75.0C389.0 87.5 388.7 99.5 389.0 112.0C389.3 124.5 391.0 135.3 392.0 150.0C393.0 164.7 392.0 185.5 395.0 200.0C398.0 214.5 404.2 224.5 410.0 237.0C415.8 249.5 424.2 266.8 430.0 275.0C435.8 283.2 437.5 278.0 445.0 286.0C452.5 294.0 465.8 310.5 475.0 323.0C484.2 335.5 493.8 350.5 500.0 361.0C506.2 371.5 506.2 371.2 512.0 386.0C517.8 400.8 527.7 429.7 535.0 450.0C542.3 470.3 552.5 498.3 556.0 508.0 M315.0 0.0C315.8 8.3 319.7 33.3 320.0 50.0C320.3 66.7 317.0 85.0 317.0 100.0C317.0 115.0 319.5 133.3 320.0 140.0 M0.0 117.0C4.2 120.8 14.7 130.3 25.0 140.0C35.3 149.7 49.5 161.7 62.0 175.0C74.5 188.3 89.5 207.5 100.0 220.0C110.5 232.5 116.7 240.8 125.0 250.0C133.3 259.2 143.8 268.3 150.0 275.0C156.2 281.7 155.8 286.3 162.0 290.0C168.2 293.7 176.5 292.7 187.0 297.0C197.5 301.3 210.3 308.3 225.0 316.0C239.7 323.7 262.5 336.3 275.0 343.0C287.5 349.7 288.3 351.8 300.0 356.0C311.7 360.2 337.5 366.0 345.0 368.0 M0.0 280.0C8.3 278.7 33.3 273.7 50.0 272.0C66.7 270.3 88.3 268.7 100.0 270.0C111.7 271.3 115.8 275.0 120.0 280.0C124.2 285.0 125.5 292.5 125.0 300.0C124.5 307.5 121.2 317.5 117.0 325.0C112.8 332.5 107.0 339.2 100.0 345.0C93.0 350.8 79.2 357.5 75.0 360.0 M0.0 335.0C6.2 334.5 20.3 330.3 37.0 332.0C53.7 333.7 89.5 342.8 100.0 345.0 M452.0 100.0C452.5 112.5 455.0 150.0 455.0 175.0C455.0 200.0 451.7 229.2 452.0 250.0C452.3 270.8 453.2 281.7 457.0 300.0C460.8 318.3 467.8 343.3 475.0 360.0C482.2 376.7 495.8 393.3 500.0 400.0 M332.0 360.0C337.0 352.0 354.0 324.2 362.0 312.0C370.0 299.8 372.0 294.0 380.0 287.0C388.0 280.0 401.7 275.3 410.0 270.0C418.3 264.7 426.7 257.5 430.0 255.0 M458.0 110.0C457.2 120.8 454.2 155.8 453.0 175.0C451.8 194.2 449.7 208.3 451.0 225.0C452.3 241.7 456.8 258.3 461.0 275.0C465.2 291.7 469.3 310.8 476.0 325.0C482.7 339.2 496.8 354.2 501.0 360.0 M476.0 325.0C486.8 324.2 525.2 314.2 541.0 320.0C556.8 325.8 566.0 353.3 571.0 360.0 M691.0 360.0C699.3 359.2 722.3 356.7 741.0 355.0C759.7 353.3 788.0 353.3 803.0 350.0C818.0 346.7 826.3 337.5 831.0 335.0 M142.0 411.0C147.5 413.5 167.0 420.2 175.0 426.0C183.0 431.8 181.7 442.7 190.0 446.0C198.3 449.3 214.2 447.7 225.0 446.0C235.8 444.3 244.7 436.0 255.0 436.0C265.3 436.0 275.3 442.3 287.0 446.0C298.7 449.7 310.3 454.7 325.0 458.0C339.7 461.3 360.5 463.0 375.0 466.0C389.5 469.0 394.5 471.2 412.0 476.0C429.5 480.8 456.0 489.7 480.0 495.0C504.0 500.3 543.3 505.8 556.0 508.0 M135.0 486.0C129.2 488.8 114.2 498.0 100.0 503.0C85.8 508.0 66.7 512.2 50.0 516.0C33.3 519.8 8.3 524.3 0.0 526.0 M375.0 511.0C381.2 509.2 401.7 503.5 412.0 500.0C422.3 496.5 425.7 490.0 437.0 490.0C448.3 490.0 472.8 498.3 480.0 500.0 M250.0 343.0 L300.0 356.0 M375.0 286.0C372.8 293.5 367.0 317.3 362.0 331.0C357.0 344.7 351.2 357.7 345.0 368.0C338.8 378.3 332.5 385.0 325.0 393.0C317.5 401.0 303.0 408.8 300.0 416.0C297.0 423.2 305.8 432.7 307.0 436.0 M535.0 286.0C533.3 294.3 530.8 323.5 525.0 336.0C519.2 348.5 504.2 356.8 500.0 361.0 M575.0 321.0C580.0 326.0 594.2 343.2 605.0 351.0C615.8 358.8 634.2 365.2 640.0 368.0 M556.0 508.0C560.0 496.7 572.7 461.3 580.0 440.0C587.3 418.7 590.0 398.3 600.0 380.0C610.0 361.7 625.0 345.0 640.0 330.0C655.0 315.0 673.3 301.3 690.0 290.0C706.7 278.7 731.7 266.7 740.0 262.0 M556.0 508.0C563.3 496.7 584.2 460.0 600.0 440.0C615.8 420.0 635.8 398.7 651.0 388.0C666.2 377.3 677.3 381.0 691.0 376.0C704.7 371.0 714.3 362.7 733.0 358.0C751.7 353.3 786.7 350.5 803.0 348.0C819.3 345.5 817.8 347.2 831.0 343.0C844.2 338.8 873.5 326.3 882.0 323.0 M556.0 508.0C566.7 506.7 597.2 503.3 620.0 500.0C642.8 496.7 680.8 490.0 693.0 488.0 M686.0 411.0C695.2 409.3 722.7 402.7 741.0 401.0C759.3 399.3 786.8 401.0 796.0 401.0 M716.0 511.0C722.2 509.3 740.5 501.8 753.0 501.0C765.5 500.2 778.8 504.3 791.0 506.0C803.2 507.7 820.2 510.2 826.0 511.0 M556.0 508.0C563.3 516.7 584.3 541.3 600.0 560.0C615.7 578.7 633.3 600.0 650.0 620.0C666.7 640.0 683.3 660.0 700.0 680.0C716.7 700.0 733.8 721.7 750.0 740.0C766.2 758.3 789.2 781.7 797.0 790.0 M556.0 508.0C566.0 514.7 597.7 537.2 616.0 548.0C634.3 558.8 645.2 562.5 666.0 573.0C686.8 583.5 716.8 598.2 741.0 611.0C765.2 623.8 799.3 643.5 811.0 650.0 M556.0 508.0C553.3 516.7 547.3 540.2 540.0 560.0C532.7 579.8 518.7 600.0 512.0 627.0C505.3 654.0 502.8 693.7 500.0 722.0C497.2 750.3 497.2 772.0 495.0 797.0C492.8 822.0 490.3 849.5 487.0 872.0C483.7 894.5 478.3 917.2 475.0 932.0C471.7 946.8 468.3 956.2 467.0 961.0 M523.0 732.0C528.0 738.7 547.5 757.0 553.0 772.0C558.5 787.0 554.7 805.3 556.0 822.0C557.3 838.7 558.5 853.7 561.0 872.0C563.5 890.3 568.2 915.5 571.0 932.0C573.8 948.5 576.8 964.5 578.0 971.0 M556.0 508.0C550.0 516.7 529.3 546.3 520.0 560.0C510.7 573.7 506.7 576.7 500.0 590.0C493.3 603.3 490.0 618.3 480.0 640.0C470.0 661.7 453.3 693.3 440.0 720.0C426.7 746.7 415.0 774.7 400.0 800.0C385.0 825.3 364.7 850.0 350.0 872.0C335.3 894.0 322.5 912.3 312.0 932.0C301.5 951.7 291.2 980.3 287.0 990.0 M556.0 508.0C546.7 516.7 515.7 545.2 500.0 560.0C484.3 574.8 472.5 584.7 462.0 597.0C451.5 609.3 449.5 617.3 437.0 634.0C424.5 650.7 401.5 680.7 387.0 697.0C372.5 713.3 362.5 720.3 350.0 732.0C337.5 743.7 326.7 756.2 312.0 767.0C297.3 777.8 270.3 792.0 262.0 797.0 M255.0 584.0C256.7 592.3 258.3 618.2 265.0 634.0C271.7 649.8 285.0 664.3 295.0 679.0C305.0 693.7 315.8 710.7 325.0 722.0C334.2 733.3 345.8 742.8 350.0 747.0 M325.0 572.0C333.3 581.5 358.3 607.3 375.0 629.0C391.7 650.7 404.2 684.5 425.0 702.0C445.8 719.5 477.2 729.8 500.0 734.0C522.8 738.2 551.7 728.2 562.0 727.0 M437.0 634.0C430.8 640.3 412.5 660.7 400.0 672.0C387.5 683.3 374.5 693.7 362.0 702.0C349.5 710.3 331.2 718.7 325.0 722.0 M425.0 702.0C419.2 711.2 400.8 738.7 390.0 757.0C379.2 775.3 368.8 792.8 360.0 812.0C351.2 831.2 345.0 852.0 337.0 872.0C329.0 892.0 316.2 922.0 312.0 932.0 M575.0 622.0C574.2 634.5 574.2 678.3 570.0 697.0C565.8 715.7 545.0 717.3 550.0 734.0C555.0 750.7 585.0 782.3 600.0 797.0C615.0 811.7 633.3 817.8 640.0 822.0 M295.0 762.0C304.2 759.5 334.2 747.8 350.0 747.0C365.8 746.2 375.5 752.0 390.0 757.0C404.5 762.0 418.7 771.2 437.0 777.0C455.3 782.8 481.2 788.7 500.0 792.0C518.8 795.3 541.7 796.2 550.0 797.0 M82.0 784.0C93.3 777.8 130.3 754.0 150.0 747.0C169.7 740.0 187.5 746.2 200.0 742.0C212.5 737.8 220.8 725.3 225.0 722.0 M0.0 842.0C12.5 837.0 57.5 819.5 75.0 812.0C92.5 804.5 92.5 800.3 105.0 797.0C117.5 793.7 134.2 792.0 150.0 792.0C165.8 792.0 191.7 796.2 200.0 797.0 M155.0 604.0C160.8 604.5 178.3 609.0 190.0 607.0C201.7 605.0 214.2 595.8 225.0 592.0C235.8 588.2 242.5 586.3 255.0 584.0C267.5 581.7 292.5 579.0 300.0 578.0 M100.0 812.0C106.7 817.8 131.7 835.0 140.0 847.0C148.3 859.0 144.2 869.8 150.0 884.0C155.8 898.2 170.8 924.0 175.0 932.0 M441.0 712.0C447.2 715.3 464.3 728.7 478.0 732.0C491.7 735.3 509.2 733.7 523.0 732.0C536.8 730.3 553.8 732.0 561.0 722.0C568.2 712.0 566.0 688.7 566.0 672.0C566.0 655.3 561.5 638.7 561.0 622.0C560.5 605.3 563.8 591.0 563.0 572.0C562.2 553.0 557.2 518.7 556.0 508.0 M503.0 572.0C503.8 584.5 508.3 622.0 508.0 647.0C507.7 672.0 502.2 697.0 501.0 722.0C499.8 747.0 502.7 772.0 501.0 797.0C499.3 822.0 495.7 849.5 491.0 872.0C486.3 894.5 476.0 922.0 473.0 932.0 M671.0 680.0C672.2 691.2 675.5 727.5 678.0 747.0C680.5 766.5 683.0 784.5 686.0 797.0C689.0 809.5 691.0 813.7 696.0 822.0C701.0 830.3 709.3 842.8 716.0 847.0C722.7 851.2 732.7 847.0 736.0 847.0 M691.0 622.0C701.3 624.5 734.3 629.5 753.0 637.0C771.7 644.5 794.7 662.0 803.0 667.0 M596.0 804.0C601.3 807.0 620.5 810.7 628.0 822.0C635.5 833.3 637.7 855.3 641.0 872.0C644.3 888.7 646.8 913.7 648.0 922.0 M467.0 961.0C466.2 966.8 464.8 983.8 462.0 996.0C459.2 1008.2 452.8 1019.3 450.0 1034.0C447.2 1048.7 447.2 1065.7 445.0 1084.0C442.8 1102.3 438.3 1134.0 437.0 1144.0 M467.0 961.0C467.5 952.3 467.8 926.0 470.0 909.0C472.2 892.0 475.0 879.8 480.0 859.0C485.0 838.2 496.7 796.5 500.0 784.0 M728.0 1004.0C727.2 1009.0 725.0 1024.5 723.0 1034.0C721.0 1043.5 719.3 1048.5 716.0 1061.0C712.7 1073.5 706.3 1095.2 703.0 1109.0C699.7 1122.8 697.2 1138.2 696.0 1144.0 M591.0 1016.0C599.3 1017.3 624.3 1021.8 641.0 1024.0C657.7 1026.2 677.3 1027.3 691.0 1029.0C704.7 1030.7 717.7 1033.2 723.0 1034.0 M603.0 959.0C603.5 963.2 608.0 974.5 606.0 984.0C604.0 993.5 590.2 1006.8 591.0 1016.0C591.8 1025.2 606.8 1029.8 611.0 1039.0C615.2 1048.2 612.7 1059.3 616.0 1071.0C619.3 1082.7 628.5 1102.7 631.0 1109.0" fill="none" stroke="#fdd48a" stroke-width="3.100" stroke-linejoin="round" stroke-linecap="round"/>
<circle cx="553" cy="506" r="24" fill="#f8f6f1"/>
<g fill="none" stroke="#fdd48a" stroke-width="2.800"><ellipse cx="553" cy="506" rx="26" ry="24"/><ellipse cx="551" cy="505" rx="58" ry="62"/></g>
<path d="M531 500 L575 512 M545 485 L560 528 M538 520 L570 492 M553 482 V530" fill="none" stroke="#fde0a8" stroke-width="2"/>
<path d="M172.0 312.0C171.2 306.0 170.8 295.3 170.0 287.0C169.2 278.7 166.7 269.8 167.0 262.0C167.3 254.2 169.5 247.5 172.0 240.0C174.5 232.5 177.3 224.2 182.0 217.0C186.7 209.8 192.8 203.2 200.0 197.0C207.2 190.8 215.8 184.5 225.0 180.0C234.2 175.5 244.7 173.0 255.0 170.0C265.3 167.0 278.3 164.5 287.0 162.0C295.7 159.5 300.7 158.7 307.0 155.0C313.3 151.3 317.8 145.8 325.0 140.0C332.2 134.2 341.7 125.8 350.0 120.0C358.3 114.2 364.7 109.0 375.0 105.0C385.3 101.0 399.5 97.7 412.0 96.0C424.5 94.3 435.3 94.3 450.0 95.0C464.7 95.7 481.7 97.2 500.0 100.0C518.3 102.8 540.0 106.2 560.0 112.0C580.0 117.8 600.0 123.7 620.0 135.0C640.0 146.3 663.3 165.0 680.0 180.0C696.7 195.0 707.3 211.3 720.0 225.0C732.7 238.7 745.0 251.8 756.0 262.0C767.0 272.2 776.8 277.8 786.0 286.0C795.2 294.2 804.8 302.7 811.0 311.0C817.2 319.3 821.0 323.5 823.0 336.0C825.0 348.5 822.5 365.2 823.0 386.0C823.5 406.8 825.5 436.0 826.0 461.0C826.5 486.0 826.8 513.2 826.0 536.0C825.2 558.8 823.5 584.0 821.0 598.0C818.5 612.0 813.7 609.7 811.0 620.0C808.3 630.3 804.7 647.2 805.0 660.0C805.3 672.8 810.0 684.7 813.0 697.0C816.0 709.3 822.5 723.2 823.0 734.0C823.5 744.8 820.3 752.7 816.0 762.0C811.7 771.3 807.5 778.0 797.0 790.0C786.5 802.0 766.5 821.2 753.0 834.0C739.5 846.8 726.3 856.7 716.0 867.0C705.7 877.3 701.5 886.2 691.0 896.0C680.5 905.8 667.7 915.5 653.0 926.0C638.3 936.5 615.5 951.5 603.0 959.0C590.5 966.5 591.0 969.8 578.0 971.0C565.0 972.2 543.5 967.7 525.0 966.0C506.5 964.3 483.7 964.7 467.0 961.0C450.3 957.3 440.3 950.2 425.0 944.0C409.7 937.8 389.7 930.7 375.0 924.0C360.3 917.3 347.5 912.8 337.0 904.0C326.5 895.2 320.3 882.7 312.0 871.0C303.7 859.3 294.0 846.3 287.0 834.0C280.0 821.7 278.3 811.5 270.0 797.0C261.7 782.5 246.7 763.7 237.0 747.0C227.3 730.3 220.3 712.5 212.0 697.0C203.7 681.5 195.7 668.7 187.0 654.0C178.3 639.3 166.2 622.5 160.0 609.0C153.8 595.5 153.3 585.2 150.0 573.0C146.7 560.8 142.5 550.5 140.0 536.0C137.5 521.5 135.7 502.7 135.0 486.0C134.3 469.3 134.8 449.3 136.0 436.0C137.2 422.7 138.0 417.3 142.0 406.0C146.0 394.7 154.5 381.8 160.0 368.0C165.5 354.2 173.0 332.3 175.0 323.0C177.0 313.7 172.8 318.0 172.0 312.0Z M115.0 0.0C124.2 11.3 155.8 50.5 170.0 68.0C184.2 85.5 190.0 92.7 200.0 105.0C210.0 117.3 223.3 132.8 230.0 142.0C236.7 151.2 236.3 154.5 240.0 160.0C243.7 165.5 250.0 172.5 252.0 175.0 M302.0 172.0C302.8 163.3 309.5 132.8 307.0 120.0C304.5 107.2 294.0 103.3 287.0 95.0C280.0 86.7 270.3 79.7 265.0 70.0C259.7 60.3 257.5 48.7 255.0 37.0C252.5 25.3 250.8 6.2 250.0 0.0 M197.0 0.0C195.3 4.2 190.7 15.8 187.0 25.0C183.3 34.2 177.8 47.8 175.0 55.0C172.2 62.2 170.8 65.8 170.0 68.0 M0.0 386.0C5.0 383.5 17.5 372.3 30.0 371.0C42.5 369.7 60.0 372.7 75.0 378.0C90.0 383.3 108.8 398.3 120.0 403.0C131.2 407.7 138.3 405.5 142.0 406.0 M0.0 608.0C6.2 606.0 24.5 599.7 37.0 596.0C49.5 592.3 68.7 587.7 75.0 586.0 M30.0 646.0C33.3 642.2 42.5 633.0 50.0 623.0C57.5 613.0 70.8 592.2 75.0 586.0 M0.0 654.0C4.2 652.0 18.0 646.5 25.0 642.0C32.0 637.5 39.2 629.5 42.0 627.0 M0.0 762.0C6.2 759.5 26.7 757.8 37.0 747.0C47.3 736.2 53.7 713.7 62.0 697.0C70.3 680.3 76.5 660.8 87.0 647.0C97.5 633.2 113.7 621.2 125.0 614.0C136.3 606.8 150.0 605.7 155.0 604.0 M0.0 927.0C16.7 917.8 66.7 889.5 100.0 872.0C133.3 854.5 173.0 834.5 200.0 822.0C227.0 809.5 251.7 801.2 262.0 797.0 M467.0 961.0C468.3 964.8 472.5 971.8 475.0 984.0C477.5 996.2 480.0 1017.3 482.0 1034.0C484.0 1050.7 486.2 1065.7 487.0 1084.0C487.8 1102.3 487.0 1134.0 487.0 1144.0 M575.0 969.0C580.0 971.5 601.7 975.3 605.0 984.0C608.3 992.7 593.8 1010.7 595.0 1021.0C596.2 1031.3 606.2 1035.5 612.0 1046.0C617.8 1056.5 625.3 1073.5 630.0 1084.0C634.7 1094.5 636.5 1099.0 640.0 1109.0C643.5 1119.0 649.2 1138.2 651.0 1144.0 M811.0 677.0C816.0 681.2 831.8 694.5 841.0 702.0C850.2 709.5 859.2 716.7 866.0 722.0C872.8 727.3 879.3 732.0 882.0 734.0 M693.0 488.0C701.0 485.2 724.7 476.8 741.0 471.0C757.3 465.2 776.0 458.0 791.0 453.0C806.0 448.0 815.8 446.3 831.0 441.0C846.2 435.7 873.5 424.3 882.0 421.0 M882.0 317.0C877.2 318.3 861.5 322.0 853.0 325.0C844.5 328.0 834.7 333.3 831.0 335.0 M312.0 871.0C310.0 877.3 305.3 896.5 300.0 909.0C294.7 921.5 288.3 933.5 280.0 946.0C271.7 958.5 258.0 971.5 250.0 984.0C242.0 996.5 242.5 1010.7 232.0 1021.0C221.5 1031.3 197.3 1037.7 187.0 1046.0C176.7 1054.3 174.2 1060.5 170.0 1071.0C165.8 1081.5 169.5 1096.8 162.0 1109.0C154.5 1121.2 131.2 1138.2 125.0 1144.0 M661.0 924.0C667.2 929.0 688.8 944.0 698.0 954.0C707.2 964.0 711.0 975.7 716.0 984.0C721.0 992.3 721.8 995.7 728.0 1004.0C734.2 1012.3 745.8 1025.7 753.0 1034.0C760.2 1042.3 764.7 1043.7 771.0 1054.0C777.3 1064.3 783.5 1081.0 791.0 1096.0C798.5 1111.0 811.8 1136.0 816.0 1144.0 M716.0 1061.0 L771.0 1056.0" fill="none" stroke="#fbbe6c" stroke-width="3.300" stroke-linejoin="round" stroke-linecap="round"/>
<path d="M302.0 172.0C305.8 175.3 315.0 183.7 325.0 192.0C335.0 200.3 351.2 213.2 362.0 222.0C372.8 230.8 382.8 240.0 390.0 245.0C397.2 250.0 398.0 250.3 405.0 252.0C412.0 253.7 420.3 253.7 432.0 255.0C443.7 256.3 455.3 256.7 475.0 260.0C494.7 263.3 532.3 270.7 550.0 275.0C567.7 279.3 570.0 280.8 581.0 286.0C592.0 291.2 601.0 298.2 616.0 306.0C631.0 313.8 659.3 323.8 671.0 333.0C682.7 342.2 684.0 350.2 686.0 361.0C688.0 371.8 683.8 385.5 683.0 398.0C682.2 410.5 680.2 423.0 681.0 436.0C681.8 449.0 686.0 467.7 688.0 476.0C690.0 484.3 694.7 479.3 693.0 486.0C691.3 492.7 683.8 503.5 678.0 516.0C672.2 528.5 662.2 549.3 658.0 561.0C653.8 572.7 652.5 576.5 653.0 586.0C653.5 595.5 660.2 610.7 661.0 618.0C661.8 625.3 657.2 623.0 658.0 630.0C658.8 637.0 664.3 651.7 666.0 660.0C667.7 668.3 669.7 671.3 668.0 680.0C666.3 688.7 661.3 701.7 656.0 712.0C650.7 722.3 642.7 732.8 636.0 742.0C629.3 751.2 621.5 759.5 616.0 767.0C610.5 774.5 606.3 780.8 603.0 787.0C599.7 793.2 597.2 801.2 596.0 804.0 M596.0 804.0C588.5 803.2 560.8 799.8 551.0 799.0C541.2 798.2 539.3 799.0 537.0 799.0 M540.0 804.0C539.5 811.2 539.5 835.7 537.0 847.0C534.5 858.3 531.2 861.7 525.0 872.0C518.8 882.3 505.8 898.7 500.0 909.0C494.2 919.3 491.7 921.5 490.0 934.0C488.3 946.5 490.5 972.3 490.0 984.0C489.5 995.7 487.5 1000.7 487.0 1004.0 M673.0 511.0C678.0 515.2 690.8 525.7 703.0 536.0C715.2 546.3 733.5 563.5 746.0 573.0C758.5 582.5 766.3 586.7 778.0 593.0C789.7 599.3 805.5 606.8 816.0 611.0C826.5 615.2 830.0 616.8 841.0 618.0C852.0 619.2 875.2 618.0 882.0 618.0 M75.0 586.0C87.5 584.7 127.2 579.7 150.0 578.0C172.8 576.3 193.3 577.2 212.0 576.0C230.7 574.8 247.3 573.5 262.0 571.0C276.7 568.5 287.5 565.7 300.0 561.0C312.5 556.3 327.8 549.3 337.0 543.0C346.2 536.7 348.7 528.3 355.0 523.0C361.3 517.7 371.7 513.0 375.0 511.0 M600.0 802.0C604.2 792.8 618.3 759.5 625.0 747.0C631.7 734.5 637.5 730.3 640.0 727.0" fill="none" stroke="#f6a35e" stroke-width="3.300" stroke-linejoin="round" stroke-linecap="round"/>
</g>
<g>
<text x="479" y="111" font-size="17" text-anchor="middle" dominant-baseline="central" transform="rotate(28 479 111)" fill="#5c5c5c" stroke="#fff" stroke-opacity=".85" stroke-width="2.6" paint-order="stroke" stroke-linejoin="round">МКАД</text>
<text x="342" y="209" font-size="17" text-anchor="middle" dominant-baseline="central" transform="rotate(47 342 209)" fill="#5c5c5c" stroke="#fff" stroke-opacity=".85" stroke-width="2.6" paint-order="stroke" stroke-linejoin="round">МСД</text>
<text x="455" y="260" font-size="17" text-anchor="middle" dominant-baseline="central" transform="rotate(8 455 260)" fill="#5c5c5c" stroke="#fff" stroke-opacity=".85" stroke-width="2.6" paint-order="stroke" stroke-linejoin="round">МСД</text>
<text x="565" y="277" font-size="17" text-anchor="middle" dominant-baseline="central" transform="rotate(25 565 277)" fill="#5c5c5c" stroke="#fff" stroke-opacity=".85" stroke-width="2.6" paint-order="stroke" stroke-linejoin="round">СВХ</text>
<text x="138" y="451" font-size="17" text-anchor="middle" dominant-baseline="central" transform="rotate(-90 138 451)" fill="#5c5c5c" stroke="#fff" stroke-opacity=".85" stroke-width="2.6" paint-order="stroke" stroke-linejoin="round">МКАД</text>
<text x="683.5" y="358.5" font-size="17" text-anchor="middle" dominant-baseline="central" transform="rotate(72 683.5 358.5)" fill="#5c5c5c" stroke="#fff" stroke-opacity=".85" stroke-width="2.6" paint-order="stroke" stroke-linejoin="round">МСД</text>
<text x="687" y="476" font-size="17" text-anchor="middle" dominant-baseline="central" transform="rotate(-86 687 476)" fill="#5c5c5c" stroke="#fff" stroke-opacity=".85" stroke-width="2.6" paint-order="stroke" stroke-linejoin="round">МСД</text>
<text x="818.5" y="353.5" font-size="17" text-anchor="middle" dominant-baseline="central" transform="rotate(80 818.5 353.5)" fill="#5c5c5c" stroke="#fff" stroke-opacity=".85" stroke-width="2.6" paint-order="stroke" stroke-linejoin="round">МКАД</text>
<text x="663.5" y="541" font-size="17" text-anchor="middle" dominant-baseline="central" transform="rotate(-72 663.5 541)" fill="#5c5c5c" stroke="#fff" stroke-opacity=".85" stroke-width="2.6" paint-order="stroke" stroke-linejoin="round">ЮВХ</text>
<text x="766" y="588.5" font-size="17" text-anchor="middle" dominant-baseline="central" transform="rotate(32 766 588.5)" fill="#5c5c5c" stroke="#fff" stroke-opacity=".85" stroke-width="2.6" paint-order="stroke" stroke-linejoin="round">МСД</text>
<text x="659.5" y="634" font-size="17" text-anchor="middle" dominant-baseline="central" transform="rotate(-86 659.5 634)" fill="#5c5c5c" stroke="#fff" stroke-opacity=".85" stroke-width="2.6" paint-order="stroke" stroke-linejoin="round">МСД</text>
<text x="540" y="822" font-size="17" text-anchor="middle" dominant-baseline="central" transform="rotate(-86 540 822)" fill="#5c5c5c" stroke="#fff" stroke-opacity=".85" stroke-width="2.6" paint-order="stroke" stroke-linejoin="round">ЮВХ</text>
<text x="516" y="894.5" font-size="17" text-anchor="middle" dominant-baseline="central" transform="rotate(-57 516 894.5)" fill="#5c5c5c" stroke="#fff" stroke-opacity=".85" stroke-width="2.6" paint-order="stroke" stroke-linejoin="round">МСД</text>
<text x="494" y="954" font-size="17" text-anchor="middle" dominant-baseline="central" transform="rotate(-86 494 954)" fill="#5c5c5c" stroke="#fff" stroke-opacity=".85" stroke-width="2.6" paint-order="stroke" stroke-linejoin="round">МСД</text>
</g>
<g transform="translate(288.5 147.5)"><rect width="23" height="23" rx="4" fill="#fb6e2c" stroke="#fff" stroke-opacity=".6" stroke-width="1"/><path d="M8.700 18.500 V5 H12.800 a3.600 3.600 0 0 1 0 7.200 H6.500 M6.500 15.200 H13.300" fill="none" stroke="#fff" stroke-width="2.100"/></g>
<g transform="translate(362.5 500.5)"><rect width="23" height="23" rx="4" fill="#fb6e2c" stroke="#fff" stroke-opacity=".6" stroke-width="1"/><path d="M8.700 18.500 V5 H12.800 a3.600 3.600 0 0 1 0 7.200 H6.500 M6.500 15.200 H13.300" fill="none" stroke="#fff" stroke-width="2.100"/></g>
<g transform="translate(250.5 558.5)"><rect width="23" height="23" rx="4" fill="#fb6e2c" stroke="#fff" stroke-opacity=".6" stroke-width="1"/><path d="M8.700 18.500 V5 H12.800 a3.600 3.600 0 0 1 0 7.200 H6.500 M6.500 15.200 H13.300" fill="none" stroke="#fff" stroke-width="2.100"/></g>
<g transform="translate(815.0 600.5)"><rect width="23" height="23" rx="4" fill="#fb6e2c" stroke="#fff" stroke-opacity=".6" stroke-width="1"/><path d="M8.700 18.500 V5 H12.800 a3.600 3.600 0 0 1 0 7.200 H6.500 M6.500 15.200 H13.300" fill="none" stroke="#fff" stroke-width="2.100"/></g>
<g transform="translate(476.0 992.5)"><rect width="23" height="23" rx="4" fill="#fb6e2c" stroke="#fff" stroke-opacity=".6" stroke-width="1"/><path d="M8.700 18.500 V5 H12.800 a3.600 3.600 0 0 1 0 7.200 H6.500 M6.500 15.200 H13.300" fill="none" stroke="#fff" stroke-width="2.100"/></g>
<g transform="translate(4.0 860.5)"><rect width="23" height="23" rx="4" fill="#4b86ef"/><path d="M19 4.500 L13.500 9.500 L5 8 L3.800 9.200 L10.300 12.300 L7.500 15 L5 14.600 L4.200 15.400 L7.200 16.600 L8.400 19.600 L9.200 18.800 L8.800 16.300 L11.500 13.500 L14.600 20 L15.800 18.800 L14.300 10.300 Z" fill="#fff"/></g>
<g transform="translate(331.0 1120.0)"><rect width="23" height="23" rx="4" fill="#4b86ef"/><path d="M19 4.500 L13.500 9.500 L5 8 L3.800 9.200 L10.300 12.300 L7.500 15 L5 14.600 L4.200 15.400 L7.200 16.600 L8.400 19.600 L9.200 18.800 L8.800 16.300 L11.500 13.500 L14.600 20 L15.800 18.800 L14.300 10.300 Z" fill="#fff"/></g>
<g><rect x="202" y="722.5" width="50.5" height="23.500" rx="4" fill="#2e9d6b"/><text x="227.2" y="735" font-size="18" font-weight="700" fill="#fff" text-anchor="middle" dominant-baseline="central" textLength="42" lengthAdjust="spacingAndGlyphs">E105</text></g>
<g><rect x="768.5" y="-14" width="41" height="23" rx="4" fill="#5b8ff0"/><text x="789" y="4.500" font-size="17" font-weight="700" fill="#fff" text-anchor="middle">М-8</text></g>
<text x="240" y="19" font-size="29.2" text-anchor="start" dominant-baseline="central" font-weight="700" textLength="216" lengthAdjust="spacing" fill="#3a3a3a" stroke="#fff" stroke-opacity=".85" stroke-width="3.2" paint-order="stroke" stroke-linejoin="round">Долгопрудный</text>
<text x="200" y="131" font-size="30.3" text-anchor="start" dominant-baseline="central" font-weight="700" textLength="95" lengthAdjust="spacing" fill="#3a3a3a" stroke="#fff" stroke-opacity=".85" stroke-width="3.2" paint-order="stroke" stroke-linejoin="round">Химки</text>
<text x="105" y="192" font-size="28.4" text-anchor="start" dominant-baseline="central" textLength="139" lengthAdjust="spacing" fill="#3a3a3a" stroke="#fff" stroke-opacity=".85" stroke-width="3.2" paint-order="stroke" stroke-linejoin="round">Путилково</text>
<text x="155" y="311" font-size="31.6" text-anchor="end" dominant-baseline="central" textLength="183" lengthAdjust="spacing" fill="#3a3a3a" stroke="#fff" stroke-opacity=".85" stroke-width="3.2" paint-order="stroke" stroke-linejoin="round">Красногорск</text><text x="155" y="311" font-size="31.6" text-anchor="end" dominant-baseline="central" textLength="183" lengthAdjust="spacing" fill="#3a3a3a" stroke="#3a3a3a" stroke-width="0.7">Красногорск</text>
<text x="434" y="477" font-size="35.7" text-anchor="start" dominant-baseline="central" font-weight="700" textLength="130" lengthAdjust="spacing" fill="#262626" stroke="#fff" stroke-opacity=".85" stroke-width="3.2" paint-order="stroke" stroke-linejoin="round">Москва</text>
<text x="50" y="566" font-size="28.1" text-anchor="start" dominant-baseline="central" textLength="160" lengthAdjust="spacing" fill="#3a3a3a" stroke="#fff" stroke-opacity=".85" stroke-width="3.2" paint-order="stroke" stroke-linejoin="round">Немчиновка</text>
<text x="122.5" y="655.5" font-size="27.8" text-anchor="start" dominant-baseline="central" textLength="106.5" lengthAdjust="spacing" fill="#3a3a3a" stroke="#fff" stroke-opacity=".85" stroke-width="3.2" paint-order="stroke" stroke-linejoin="round">Заречье</text>
<text x="56" y="677" font-size="29.7" text-anchor="end" dominant-baseline="central" font-weight="700" textLength="150" lengthAdjust="spacing" fill="#3a3a3a" stroke="#fff" stroke-opacity=".85" stroke-width="3.2" paint-order="stroke" stroke-linejoin="round">Одинцово</text>
<text x="181" y="828" font-size="28.2" text-anchor="start" dominant-baseline="central" textLength="215" lengthAdjust="spacing" fill="#3a3a3a" stroke="#fff" stroke-opacity=".85" stroke-width="3.2" paint-order="stroke" stroke-linejoin="round">пос. Мосрентген</text>
<text x="106" y="895.5" font-size="29.0" text-anchor="start" dominant-baseline="central" textLength="159" lengthAdjust="spacing" fill="#3a3a3a" stroke="#fff" stroke-opacity=".85" stroke-width="3.2" paint-order="stroke" stroke-linejoin="round">Московский</text>
<text x="37" y="901" font-size="21.8" text-anchor="end" dominant-baseline="central" textLength="46" lengthAdjust="spacing" fill="#4a7fd8" stroke="#fff" stroke-opacity=".85" stroke-width="3.2" paint-order="stroke" stroke-linejoin="round">VKO</text>
<text x="210" y="957.5" font-size="28.5" text-anchor="start" dominant-baseline="central" textLength="162.5" lengthAdjust="spacing" fill="#3a3a3a" stroke="#fff" stroke-opacity=".85" stroke-width="3.2" paint-order="stroke" stroke-linejoin="round">Коммунарка</text>
<text x="392.5" y="1069" font-size="29.8" text-anchor="start" dominant-baseline="central" textLength="142.5" lengthAdjust="spacing" fill="#3a3a3a" stroke="#fff" stroke-opacity=".85" stroke-width="3.2" paint-order="stroke" stroke-linejoin="round">Дрожжино</text>
<text x="577" y="989" font-size="28.7" text-anchor="start" dominant-baseline="central" font-weight="700" textLength="107.5" lengthAdjust="spacing" fill="#3a3a3a" stroke="#fff" stroke-opacity=".85" stroke-width="3.2" paint-order="stroke" stroke-linejoin="round">Видное</text>
<text x="636" y="907.5" font-size="27.4" text-anchor="start" dominant-baseline="central" textLength="118.7" lengthAdjust="spacing" fill="#3a3a3a" stroke="#fff" stroke-opacity=".85" stroke-width="3.2" paint-order="stroke" stroke-linejoin="round">Развилка</text>
<text x="746" y="803" font-size="30.1" text-anchor="start" dominant-baseline="central" textLength="184" lengthAdjust="spacing" fill="#3a3a3a" stroke="#fff" stroke-opacity=".85" stroke-width="3.2" paint-order="stroke" stroke-linejoin="round">Дзержинский</text>
<text x="829.7" y="682" font-size="28.8" text-anchor="start" dominant-baseline="central" font-weight="700" textLength="138" lengthAdjust="spacing" fill="#3a3a3a" stroke="#fff" stroke-opacity=".85" stroke-width="3.2" paint-order="stroke" stroke-linejoin="round">Люберцы</text>
<text x="794.7" y="464.7" font-size="30.6" text-anchor="start" dominant-baseline="central" textLength="98" lengthAdjust="spacing" fill="#3a3a3a" stroke="#fff" stroke-opacity=".85" stroke-width="3.2" paint-order="stroke" stroke-linejoin="round">Реутов</text><text x="794.7" y="464.7" font-size="30.6" text-anchor="start" dominant-baseline="central" textLength="98" lengthAdjust="spacing" fill="#3a3a3a" stroke="#3a3a3a" stroke-width="0.7">Реутов</text>
<text x="851" y="935" font-size="29.6" text-anchor="start" dominant-baseline="central" textLength="150" lengthAdjust="spacing" fill="#3a3a3a" stroke="#fff" stroke-opacity=".85" stroke-width="3.2" paint-order="stroke" stroke-linejoin="round">Лыткарино</text><text x="851" y="935" font-size="29.6" text-anchor="start" dominant-baseline="central" textLength="150" lengthAdjust="spacing" fill="#3a3a3a" stroke="#3a3a3a" stroke-width="0.7">Лыткарино</text>
<text x="796" y="77.5" font-size="27.9" text-anchor="start" dominant-baseline="central" font-weight="700" textLength="118" lengthAdjust="spacing" fill="#3a3a3a" stroke="#fff" stroke-opacity=".85" stroke-width="3.2" paint-order="stroke" stroke-linejoin="round">Королёв</text>
<circle cx="213" cy="221" r="23" fill="rgb(14,81,170)" fill-opacity="0.86"/>
<circle cx="345.5" cy="222" r="35.5" fill="rgb(46,108,189)" fill-opacity="0.86"/>
<circle cx="516" cy="241" r="44.5" fill="rgb(70,130,203)" fill-opacity="0.86"/>
<circle cx="308" cy="454" r="31" fill="rgb(41,99,182)" fill-opacity="0.86"/>
<circle cx="476" cy="444.75" r="79.5" fill="rgb(146,202,251)" fill-opacity="0.86"/>
<circle cx="600" cy="404" r="53.5" fill="rgb(85,146,214)" fill-opacity="0.86"/>
<circle cx="670" cy="561.5" r="76.5" fill="rgb(138,194,246)" fill-opacity="0.86"/>
<circle cx="212" cy="576" r="21.5" fill="rgb(12,75,165)" fill-opacity="0.86"/>
<circle cx="349.5" cy="730" r="34.5" fill="rgb(50,111,191)" fill-opacity="0.86"/>
<circle cx="458" cy="800" r="40" fill="rgb(62,123,200)" fill-opacity="0.86"/>
<circle cx="482.5" cy="919.5" r="19.5" fill="rgb(11,74,161)" fill-opacity="0.86"/>
<circle cx="667.5" cy="836" r="37.5" fill="rgb(53,113,193)" fill-opacity="0.86"/>
</svg>
<div class="abs" style="left:827.3px;top:567px;width:2px;height:303px;background:rgba(0,0,0,.2);"></div><div class="abs" style="left:841.3px;top:567px;width:2px;height:303px;background:rgba(0,0,0,.2);"></div><div class="abs" style="left:829.3px;top:567px;width:12px;height:303px;background:rgba(255,255,255,.3);"></div>
<div class="abs" style="left:809px;top:512px;width:54px;height:55px;background:#fff;border-radius:6px;box-shadow:0 1px 4px rgba(0,0,0,.28);"></div>
<div class="abs" style="left:809px;top:869.5px;width:54px;height:55px;background:#fff;border-radius:6px;box-shadow:0 1px 4px rgba(0,0,0,.28);"></div>
<div class="abs" style="left:807.5px;top:711px;width:55.5px;height:30px;background:#fff;border-radius:6px;box-shadow:0 1px 4px rgba(0,0,0,.28);"></div>
<div class="abs" style="left:822.5px;top:535.5px;width:27px;height:7px;background:#666;"></div><div class="abs" style="left:832.5px;top:525.5px;width:7px;height:27px;background:#666;"></div>
<div class="abs" style="left:822px;top:892.5px;width:28px;height:7.5px;background:#666;"></div>
<div class="abs" style="left:825.0px;top:722.5px;width:1.7px;height:1.7px;background:#8a8a8a;"></div><div class="abs" style="left:825.0px;top:728.0px;width:1.7px;height:1.7px;background:#8a8a8a;"></div><div class="abs" style="left:831.2px;top:722.5px;width:1.7px;height:1.7px;background:#8a8a8a;"></div><div class="abs" style="left:831.2px;top:728.0px;width:1.7px;height:1.7px;background:#8a8a8a;"></div><div class="abs" style="left:837.4px;top:722.5px;width:1.7px;height:1.7px;background:#8a8a8a;"></div><div class="abs" style="left:837.4px;top:728.0px;width:1.7px;height:1.7px;background:#8a8a8a;"></div><div class="abs" style="left:843.6px;top:722.5px;width:1.7px;height:1.7px;background:#8a8a8a;"></div><div class="abs" style="left:843.6px;top:728.0px;width:1.7px;height:1.7px;background:#8a8a8a;"></div>
<div class="abs" style="left:1293.5px;top:311.5px;width:360px;height:247px;background:#fff;border-radius:8px;"></div>
<div class="t" style="top:337.0px;font-size:26px;left:1310px;color:#6b6b6b;letter-spacing:-1.010px;">Sales</div>
<div class="abs" style="left:1309.5px;top:381px;width:328.2px;height:15.8px;border-radius:3px;background:linear-gradient(90deg,#0044a3,#8ad3ff);"></div>
<div class="t" style="top:416.0px;font-size:26px;left:1310px;color:#1a1a1a;letter-spacing:-0.066px;">2,96M</div>
<div class="t" style="top:416.0px;font-size:26px;left:1565.0px;color:#1a1a1a;letter-spacing:-0.066px;">9,22M</div>
<div class="t" style="top:456.0px;font-size:26px;left:1310px;color:#6b6b6b;letter-spacing:0.351px;">OrderCount</div>
<svg width="332" height="30" viewBox="0 0 332 30" style="left:1308.5px;top:480px"><path d="M1.500 26.500 H329 V4 L1.500 21.800 Z" fill="#fff" stroke="#1a1a1a" stroke-width="1.700" stroke-linejoin="miter"/></svg>
<div class="t" style="top:517.0px;font-size:26px;left:1310px;color:#1a1a1a;letter-spacing:-0.361px;">1,29K</div>
<div class="t" style="top:517.0px;font-size:26px;left:1571.5px;color:#1a1a1a;letter-spacing:-0.611px;">4,08K</div>
<!-- p_panel -->
<div class="abs" style="left:1808px;top:80px;width:30px;height:1357px;background:#fff;"></div>
<div class="abs" style="left:1838px;top:80px;width:2px;height:1357px;background:#e6e6e6;"></div>
<div class="abs" style="left:1840px;top:80px;width:717px;height:1357px;background:#fff;"></div>
<div class="abs" style="left:1814.5px;top:116.5px;width:17.5px;height:1201px;background:#e4e4e4;border-radius:9px;"></div>
<svg width="30" height="1360" viewBox="1808 80 30 1360" style="left:1808px;top:80px"><path d="M1813 103.500 L1823.500 93 L1834 103.500 Z M1813 1415.500 L1823.500 1426.500 L1834 1415.500 Z" fill="#e4e4e4"/></svg>
<svg width="2" height="2" style="left:1896px;top:137px"><defs><linearGradient id="sg2" gradientUnits="userSpaceOnUse" x1="-14" y1="-12" x2="16" y2="18"><stop offset="0" stop-color="#e08bff"/><stop offset="0.5" stop-color="#b494ff"/><stop offset="1" stop-color="#8a9aff"/></linearGradient></defs><g transform="scale(1.0)" fill="url(#sg2)"><path d="M0 -14.300 C2 -6.400 6.400 -2 15.300 0 C6.400 2 2 6.400 0 14.300 C-2 6.400 -6.400 2 -15.300 0 C-6.400 -2 -2 -6.400 0 -14.300 Z"/><path d="M0 -6.300 C.9 -2.600 2.600 -.9 6.300 0 C2.600 .9 .9 2.600 0 6.300 C-.9 2.600 -2.600 .9 -6.300 0 C-2.600 -.9 -.9 -2.600 0 -6.300 Z" transform="translate(12.800 14)" fill="#7b9dff"/></g></svg>
<div class="t" style="top:123.5px;font-size:31px;left:1933px;-webkit-text-stroke:0.65px #262626;">Нейроаналитик</div>
<div class="t" style="top:113.0px;font-size:22px;left:2162px;font-weight:700;color:#0d7dff;letter-spacing:0.254px;">beta</div>
<svg width="40" height="40" viewBox="2370 122 40 40" style="left:2370px;top:122px"><g fill="none" stroke="#262626" stroke-width="2.900" stroke-linecap="round" stroke-linejoin="round"><ellipse cx="2389" cy="128.300" rx="6.400" ry="2.600"/><path d="M2393.700 132.200 L2394.100 137.400 C2396.500 139 2400 140.200 2400.200 143.400 L2399.600 144.800"/><path d="M2382.200 137.200 C2378.200 138.800 2377.100 141 2377.300 142.800 C2378 146.200 2384 147.600 2389 147.600 C2390.500 147.600 2392 147.500 2393.600 147.200"/><path d="M2388.800 147.800 V154.800"/><path d="M2379.500 127.500 L2402.500 150.500" stroke="#fff" stroke-width="3.200"/><path d="M2377.200 129.400 L2400.200 152.300"/></g></svg>
<div class="abs" style="left:2432.5px;top:139.3px;width:24.5px;height:2.9px;background:#262626;border-radius:1.45px;"></div>
<svg width="30" height="30" viewBox="-15 -15 30 30" style="left:2485.600px;top:125.700px"><path d="M-9.200 -9.200 L9.200 9.200 M9.200 -9.200 L-9.200 9.200" stroke="#262626" stroke-width="2.900" stroke-linecap="round"/></svg>
<div class="abs" style="left:1908px;top:216.5px;width:620px;height:67.5px;background:#f2f2f2;border-radius:22px 0 22px 22px;"></div>
<div class="t" style="top:236.5px;font-size:27px;left:1932px;letter-spacing:-0.651px;">Какие выводы можно сделать по этим данным?</div>
<div class="abs" style="left:1863px;top:299px;width:682.5px;height:279px;border-radius:18px;border:4.500px solid #5282ff;"></div>
<div class="abs" style="left:1880.5px;top:317.5px;width:647.5px;height:243px;background:#fff;border-radius:18px;border:2px solid #e6e6e6;"></div>
<div class="t" style="top:343.5px;font-size:27px;left:1898px;color:#8c8c8c;letter-spacing:-0.697px;">Получил данные чартов</div>
<svg width="30" height="20" viewBox="-15 -10 30 20" style="left:2472px;top:348px"><path d="M-10.500 5.500 L0 -5 L10.500 5.500" fill="none" stroke="#595959" stroke-width="3.200" stroke-linecap="round" stroke-linejoin="round"/></svg>
<div class="abs" style="left:1897.3px;top:417.40000000000003px;width:37px;height:37px;border-radius:8px;background:#5282ff"></div><svg width="37" height="37" viewBox="-0.5 -0.5 37 37" style="left:1897.3px;top:417.40000000000003px"><path d="M14.300 26 H9.600 a1.300 1.300 0 0 1 -1.300 -1.300 V20.700 a1.300 1.300 0 0 1 1.300 -1.300 H14.300 M14.300 26 V15.700 a1.300 1.300 0 0 1 1.300 -1.300 H21.300 M14.300 26 H21.300 M21.300 26 V11 a1.300 1.300 0 0 1 1.300 -1.300 H26.400 a1.300 1.300 0 0 1 1.300 1.300 V24.700 a1.300 1.300 0 0 1 -1.300 1.300 H21.300" fill="none" stroke="#fff" stroke-width="2.300" stroke-linejoin="round"/></svg>
<div class="t" style="top:420.9px;font-size:26px;left:1946px;letter-spacing:0.159px;">Карта продаж</div>
<div class="abs" style="left:1897.3px;top:461.40000000000003px;width:37px;height:37px;border-radius:8px;background:#5282ff"></div><svg width="37" height="37" viewBox="-0.5 -0.5 37 37" style="left:1897.3px;top:461.40000000000003px"><path d="M14.300 26 H9.600 a1.300 1.300 0 0 1 -1.300 -1.300 V20.700 a1.300 1.300 0 0 1 1.300 -1.300 H14.300 M14.300 26 V15.700 a1.300 1.300 0 0 1 1.300 -1.300 H21.300 M14.300 26 H21.300 M21.300 26 V11 a1.300 1.300 0 0 1 1.300 -1.300 H26.400 a1.300 1.300 0 0 1 1.300 1.300 V24.700 a1.300 1.300 0 0 1 -1.300 1.300 H21.300" fill="none" stroke="#fff" stroke-width="2.300" stroke-linejoin="round"/></svg>
<div class="t" style="top:464.9px;font-size:26px;left:1946px;letter-spacing:0.307px;">Продажи по подкатегориям</div>
<div class="abs" style="left:1897.3px;top:505.4px;width:37px;height:37px;border-radius:8px;background:#5282ff"></div><svg width="37" height="37" viewBox="-0.5 -0.5 37 37" style="left:1897.3px;top:505.4px"><path d="M14.300 26 H9.600 a1.300 1.300 0 0 1 -1.300 -1.300 V20.700 a1.300 1.300 0 0 1 1.300 -1.300 H14.300 M14.300 26 V15.700 a1.300 1.300 0 0 1 1.300 -1.300 H21.300 M14.300 26 H21.300 M21.300 26 V11 a1.300 1.300 0 0 1 1.300 -1.300 H26.400 a1.300 1.300 0 0 1 1.300 1.300 V24.700 a1.300 1.300 0 0 1 -1.300 1.300 H21.300" fill="none" stroke="#fff" stroke-width="2.300" stroke-linejoin="round"/></svg>
<div class="t" style="top:508.9px;font-size:26px;left:1946px;letter-spacing:0.017px;">Продажи по неделям</div>
<svg width="46" height="46" viewBox="1884 600 46 46" style="left:1884px;top:600px"><rect x="1886.500" y="603.500" width="39.200" height="39" fill="#f3f3f3"/><path d="M1886 613.500 H1926 M1886 626 H1926 M1899.600 603 V642 M1912.700 603 V642" stroke="#e2e2e2" stroke-width="1.200"/><rect x="1890.600" y="616.200" width="5.700" height="25" fill="#34c934"/><rect x="1903.100" y="623.100" width="5.700" height="18" fill="#f0553a"/><rect x="1916.100" y="610.200" width="5.500" height="31" fill="#2389e2"/><rect x="1886.500" y="603.500" width="39.200" height="39" fill="none" stroke="#262626" stroke-width="2.600"/></svg>
<div class="t" style="top:603.5px;font-size:41px;left:1940.5px;letter-spacing:-0.575px;-webkit-text-stroke:1.15px #262626;">Общие выводы по данным о</div>
<div class="t" style="top:651.5px;font-size:41px;left:1880.5px;letter-spacing:0.519px;-webkit-text-stroke:1.15px #262626;">продажах</div>
<div class="t" style="top:729.0px;font-size:26px;left:1880.5px;color:#2e2e2e;letter-spacing:-0.270px;">На основе анализа трёх виджетов — </div><div class="t" style="top:729.0px;font-size:26px;left:2326.0px;font-weight:700;color:#262626;letter-spacing:-0.427px;">карты продаж</div>
<div class="t" style="top:765.5px;font-size:26px;left:1880.5px;font-weight:700;color:#262626;letter-spacing:-0.461px;">по магазинам</div><div class="t" style="top:765.5px;font-size:26px;left:2051.5px;color:#2e2e2e;letter-spacing:-1.450px;">, </div><div class="t" style="top:765.5px;font-size:26px;left:2064.5px;font-weight:700;color:#262626;letter-spacing:-0.391px;">продаж по подкатегориям</div><div class="t" style="top:765.5px;font-size:26px;left:2393.5px;color:#2e2e2e;letter-spacing:-0.751px;"> и</div>
<div class="t" style="top:801.5px;font-size:26px;left:1880.5px;font-weight:700;color:#262626;letter-spacing:-0.428px;">динамики продаж по неделям</div><div class="t" style="top:801.5px;font-size:26px;left:2258.5px;color:#2e2e2e;letter-spacing:-0.347px;"> — можно сделать</div>
<div class="t" style="top:838.0px;font-size:26px;left:1880.5px;color:#2e2e2e;letter-spacing:-0.131px;">следующие ключевые выводы:</div>
<div class="abs" style="left:1880.5px;top:908.5px;width:647.5px;height:6px;background:#e6e6e6;"></div>
<svg width="34" height="50" viewBox="0 0 34 50" style="left:1879px;top:954px"><path d="M15.500 26 V44 a1.800 1.800 0 0 0 3.600 0 V26" fill="#e9e9e9" stroke="#262626" stroke-width="1.800"/><circle cx="17.300" cy="15.500" r="11.800" fill="#f0513a" stroke="#d43c26" stroke-width="1.500"/><ellipse cx="13.500" cy="11" rx="3.500" ry="2.500" fill="#f98a72"/></svg>
<div class="t" style="top:958.5px;font-size:41px;left:1922px;letter-spacing:-0.148px;-webkit-text-stroke:1.15px #262626;">Географическое</div>
<div class="t" style="top:1006.5px;font-size:41px;left:1880.5px;letter-spacing:0.137px;-webkit-text-stroke:1.15px #262626;">распределение продаж</div>
<div class="abs" style="left:1880px;top:1076px;width:648px;height:14px;overflow:hidden;opacity:.55"><div class="t" style="top:7.0px;font-size:30px;left:28px;color:#777;">•  Наибольшие объёмы продаж сосредоточены в</div></div>
<div class="abs" style="left:1880px;top:1076px;width:648px;height:30px;background:linear-gradient(180deg,rgba(255,255,255,.2),#fff 60%);"></div>
<div class="abs" style="left:2069px;top:1106px;width:270px;height:55.8px;background:#f2f2f2;border-radius:13px;"></div>
<svg width="36" height="36" viewBox="-18 -18 36 36" style="left:2090.800px;top:1116px"><path d="M-9.200 -5.500 A11 11 0 1 1 -10.800 2.500" fill="none" stroke="#262626" stroke-width="3" stroke-linecap="round"/><path d="M-10.200 -12.500 V-5 H-2.800" fill="none" stroke="#262626" stroke-width="3" stroke-linecap="round" stroke-linejoin="round"/></svg>
<div class="t" style="top:1119.6px;font-size:26px;left:2141.5px;letter-spacing:-0.205px;">Начать заново</div>
<div class="abs" style="left:1880px;top:1194px;width:648px;height:170.5px;background:#fff;border-radius:24px;border:2px solid #dedede;"></div>
<div class="t" style="top:1230.0px;font-size:26px;left:1906.5px;color:#b3b3b3;letter-spacing:-0.085px;">Задайте вопрос</div>
<div class="abs" style="left:2446.5px;top:1286.5px;width:55.5px;height:55.5px;background:#ededed;border-radius:13px;"></div>
<svg width="30" height="36" viewBox="-15 -18 30 36" style="left:2459.500px;top:1297px"><path d="M0 12.500 V-11.500 M-9 -2.500 L0 -11.800 L9 -2.500" fill="none" stroke="#a3a3a3" stroke-width="2.800" stroke-linecap="round" stroke-linejoin="round"/></svg>
<div class="t" style="top:1380.5px;font-size:22px;left:1990px;color:#b5b5b5;letter-spacing:-0.037px;">AI может ошибаться, будьте внимательны</div>
<div class="abs" style="left:0px;top:0px;width:2560px;height:3px;background:#cbcbcb;"></div><div class="abs" style="left:0px;top:1437px;width:2560px;height:3px;background:#cbcbcb;"></div><div class="abs" style="left:0px;top:0px;width:3px;height:1440px;background:#cbcbcb;"></div><div class="abs" style="left:2557px;top:0px;width:3px;height:1440px;background:#cbcbcb;"></div>
</body></html>
